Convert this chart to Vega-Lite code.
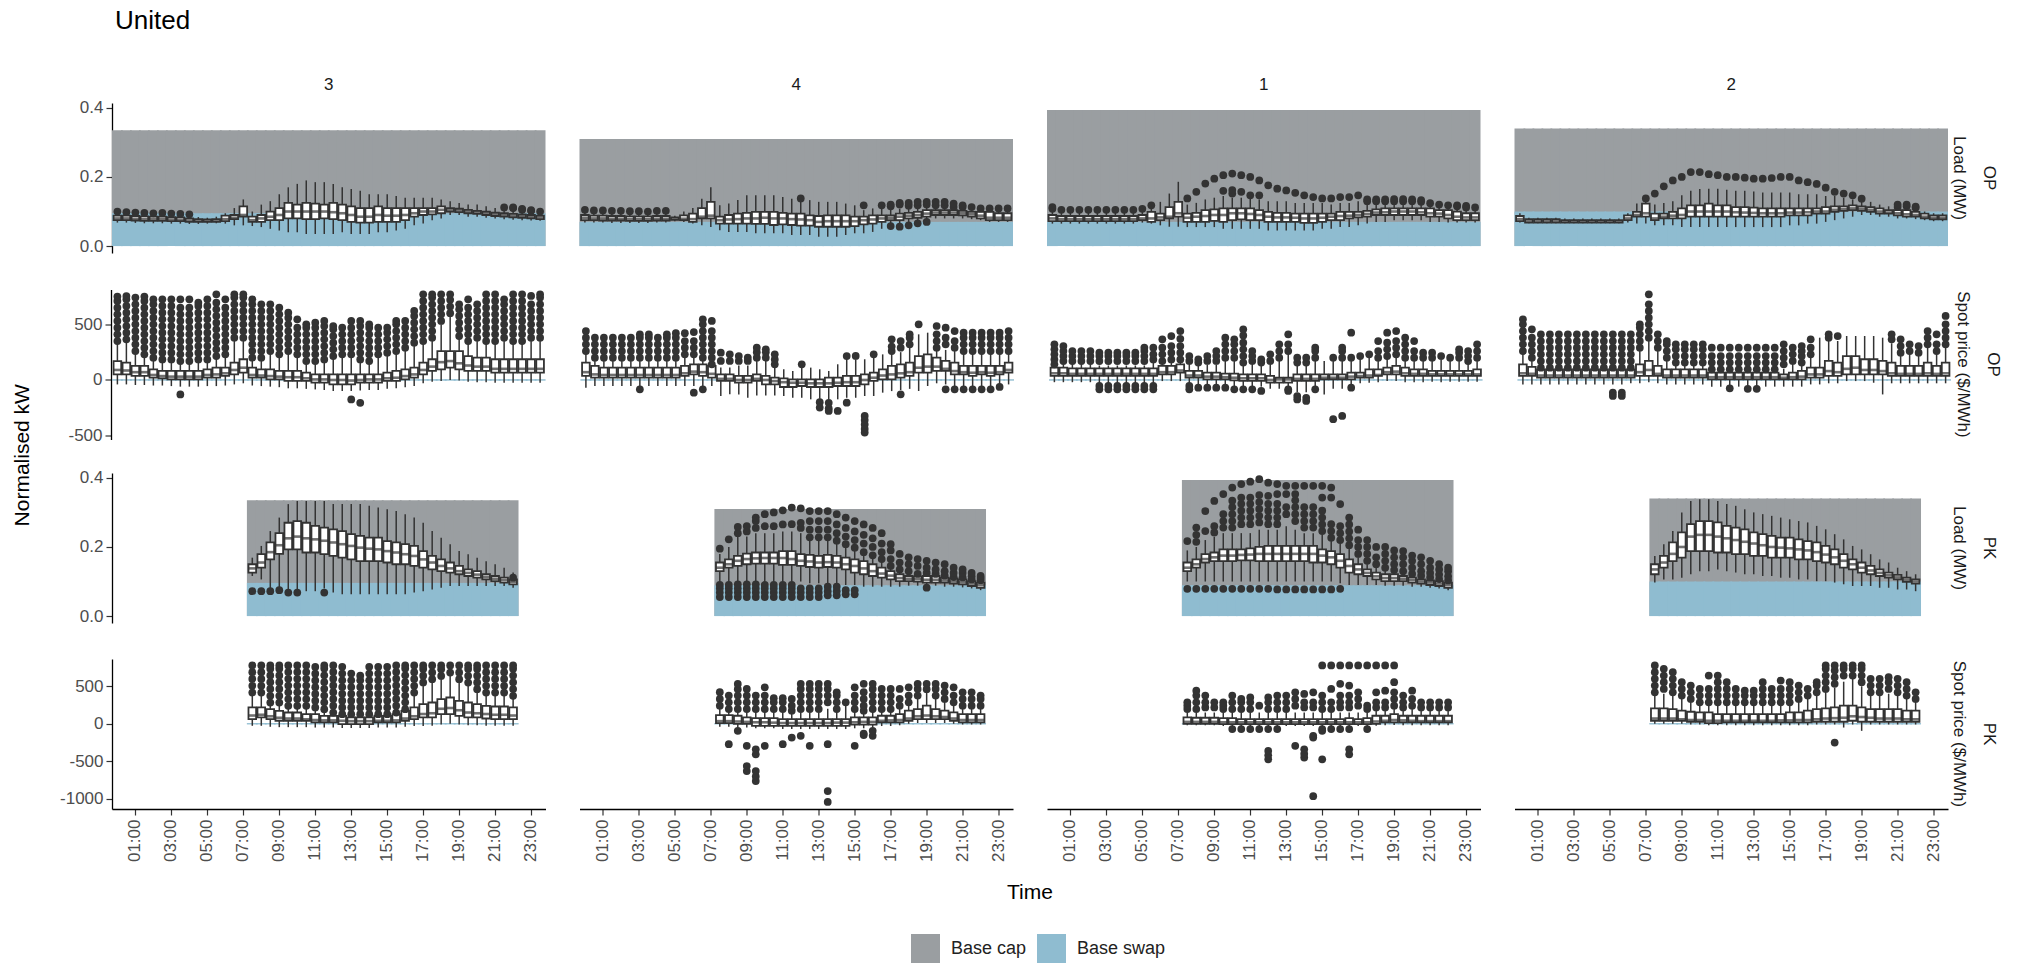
{
  "$schema": "https://vega.github.io/schema/vega-lite/v6.json",
  "background": "white",
  "padding": {"left": 11, "top": 8, "right": 6, "bottom": 2},
  "title": {"text": "United", "anchor": "start", "frame": "group", "dx": 83, "fontSize": 26, "fontWeight": "normal", "color": "#000000", "offset": 42},
  "config": {
    "font": "Liberation Sans",
    "view": {"stroke": null},
    "axis": {"grid": false, "domainColor": "#000000", "domainWidth": 1.3, "tickColor": "#333333", "tickWidth": 1.2, "tickSize": 6, "labelColor": "#4d4d4d", "labelFontSize": 17, "labelPadding": 3, "titleFontSize": 21, "titleFontWeight": "normal", "titleColor": "#000000"},
    "header": {"labelFontSize": 17, "labelColor": "#1a1a1a", "titleFontSize": 17, "titleFontWeight": "normal", "titleColor": "#1a1a1a"},
    "legend": {"orient": "none", "legendX": 879, "legendY": 831, "direction": "horizontal", "labelFontSize": 18, "labelColor": "#222222", "symbolType": "square", "symbolSize": 841, "symbolStrokeWidth": 0, "symbolOpacity": 1, "columnPadding": 10, "labelOffset": 11}
  },
  "spacing": 23,
  "datasets": {
    "bx": [
      {"c":"3","r":"OPL","t":"00:00","lo":0.068,"q1":0.075,"m":0.08,"q3":0.088,"hi":0.095,"o":[0.1]},
      {"c":"3","r":"OPL","t":"00:30","lo":0.068,"q1":0.075,"m":0.08,"q3":0.088,"hi":0.095,"o":[0.098]},
      {"c":"3","r":"OPL","t":"01:00","lo":0.067,"q1":0.074,"m":0.079,"q3":0.087,"hi":0.094,"o":[0.097]},
      {"c":"3","r":"OPL","t":"01:30","lo":0.066,"q1":0.073,"m":0.078,"q3":0.086,"hi":0.093,"o":[0.096]},
      {"c":"3","r":"OPL","t":"02:00","lo":0.066,"q1":0.073,"m":0.078,"q3":0.085,"hi":0.092,"o":[0.095]},
      {"c":"3","r":"OPL","t":"02:30","lo":0.066,"q1":0.073,"m":0.078,"q3":0.085,"hi":0.092,"o":[0.096]},
      {"c":"3","r":"OPL","t":"03:00","lo":0.065,"q1":0.072,"m":0.077,"q3":0.084,"hi":0.09,"o":[0.094]},
      {"c":"3","r":"OPL","t":"03:30","lo":0.065,"q1":0.072,"m":0.076,"q3":0.083,"hi":0.09,"o":[0.093]},
      {"c":"3","r":"OPL","t":"04:00","lo":0.064,"q1":0.07,"m":0.074,"q3":0.08,"hi":0.088,"o":[0.092]},
      {"c":"3","r":"OPL","t":"04:30","lo":0.064,"q1":0.07,"m":0.073,"q3":0.078,"hi":0.084},
      {"c":"3","r":"OPL","t":"05:00","lo":0.065,"q1":0.07,"m":0.073,"q3":0.077,"hi":0.082},
      {"c":"3","r":"OPL","t":"05:30","lo":0.066,"q1":0.07,"m":0.074,"q3":0.078,"hi":0.085},
      {"c":"3","r":"OPL","t":"06:00","lo":0.065,"q1":0.072,"m":0.078,"q3":0.088,"hi":0.095},
      {"c":"3","r":"OPL","t":"06:30","lo":0.06,"q1":0.078,"m":0.082,"q3":0.09,"hi":0.11},
      {"c":"3","r":"OPL","t":"07:00","lo":0.06,"q1":0.085,"m":0.09,"q3":0.115,"hi":0.135},
      {"c":"3","r":"OPL","t":"07:30","lo":0.058,"q1":0.07,"m":0.075,"q3":0.085,"hi":0.1},
      {"c":"3","r":"OPL","t":"08:00","lo":0.055,"q1":0.07,"m":0.08,"q3":0.09,"hi":0.12},
      {"c":"3","r":"OPL","t":"08:30","lo":0.05,"q1":0.075,"m":0.085,"q3":0.1,"hi":0.13},
      {"c":"3","r":"OPL","t":"09:00","lo":0.045,"q1":0.075,"m":0.09,"q3":0.11,"hi":0.15},
      {"c":"3","r":"OPL","t":"09:30","lo":0.04,"q1":0.08,"m":0.1,"q3":0.125,"hi":0.17},
      {"c":"3","r":"OPL","t":"10:00","lo":0.04,"q1":0.08,"m":0.1,"q3":0.12,"hi":0.18},
      {"c":"3","r":"OPL","t":"10:30","lo":0.035,"q1":0.078,"m":0.1,"q3":0.125,"hi":0.19},
      {"c":"3","r":"OPL","t":"11:00","lo":0.035,"q1":0.078,"m":0.1,"q3":0.123,"hi":0.185},
      {"c":"3","r":"OPL","t":"11:30","lo":0.035,"q1":0.08,"m":0.1,"q3":0.12,"hi":0.185},
      {"c":"3","r":"OPL","t":"12:00","lo":0.035,"q1":0.078,"m":0.098,"q3":0.125,"hi":0.18},
      {"c":"3","r":"OPL","t":"12:30","lo":0.04,"q1":0.075,"m":0.095,"q3":0.12,"hi":0.17},
      {"c":"3","r":"OPL","t":"13:00","lo":0.035,"q1":0.07,"m":0.09,"q3":0.115,"hi":0.165},
      {"c":"3","r":"OPL","t":"13:30","lo":0.035,"q1":0.068,"m":0.085,"q3":0.11,"hi":0.16},
      {"c":"3","r":"OPL","t":"14:00","lo":0.035,"q1":0.068,"m":0.085,"q3":0.11,"hi":0.15},
      {"c":"3","r":"OPL","t":"14:30","lo":0.04,"q1":0.07,"m":0.09,"q3":0.115,"hi":0.15},
      {"c":"3","r":"OPL","t":"15:00","lo":0.04,"q1":0.07,"m":0.088,"q3":0.11,"hi":0.15},
      {"c":"3","r":"OPL","t":"15:30","lo":0.045,"q1":0.07,"m":0.088,"q3":0.11,"hi":0.145},
      {"c":"3","r":"OPL","t":"16:00","lo":0.05,"q1":0.075,"m":0.09,"q3":0.11,"hi":0.14},
      {"c":"3","r":"OPL","t":"16:30","lo":0.06,"q1":0.085,"m":0.095,"q3":0.11,"hi":0.14},
      {"c":"3","r":"OPL","t":"17:00","lo":0.065,"q1":0.09,"m":0.1,"q3":0.11,"hi":0.14},
      {"c":"3","r":"OPL","t":"17:30","lo":0.075,"q1":0.092,"m":0.1,"q3":0.11,"hi":0.14},
      {"c":"3","r":"OPL","t":"18:00","lo":0.08,"q1":0.095,"m":0.105,"q3":0.115,"hi":0.135},
      {"c":"3","r":"OPL","t":"18:30","lo":0.09,"q1":0.1,"m":0.105,"q3":0.11,"hi":0.13},
      {"c":"3","r":"OPL","t":"19:00","lo":0.09,"q1":0.098,"m":0.103,"q3":0.108,"hi":0.125},
      {"c":"3","r":"OPL","t":"19:30","lo":0.085,"q1":0.095,"m":0.1,"q3":0.105,"hi":0.12},
      {"c":"3","r":"OPL","t":"20:00","lo":0.085,"q1":0.093,"m":0.098,"q3":0.102,"hi":0.12},
      {"c":"3","r":"OPL","t":"20:30","lo":0.082,"q1":0.09,"m":0.095,"q3":0.1,"hi":0.115},
      {"c":"3","r":"OPL","t":"21:00","lo":0.08,"q1":0.087,"m":0.092,"q3":0.097,"hi":0.11},
      {"c":"3","r":"OPL","t":"21:30","lo":0.078,"q1":0.085,"m":0.09,"q3":0.095,"hi":0.108,"o":[0.112]},
      {"c":"3","r":"OPL","t":"22:00","lo":0.076,"q1":0.083,"m":0.088,"q3":0.093,"hi":0.105,"o":[0.11,0.112]},
      {"c":"3","r":"OPL","t":"22:30","lo":0.075,"q1":0.082,"m":0.087,"q3":0.092,"hi":0.1,"o":[0.105,0.108]},
      {"c":"3","r":"OPL","t":"23:00","lo":0.074,"q1":0.08,"m":0.085,"q3":0.09,"hi":0.098,"o":[0.102,0.104]},
      {"c":"3","r":"OPL","t":"23:30","lo":0.073,"q1":0.078,"m":0.083,"q3":0.088,"hi":0.096,"o":[0.1]},

      {"c":"4","r":"OPL","t":"00:00","lo":0.068,"q1":0.075,"m":0.082,"q3":0.09,"hi":0.1,"o":[0.105]},
      {"c":"4","r":"OPL","t":"00:30","lo":0.068,"q1":0.075,"m":0.08,"q3":0.088,"hi":0.098,"o":[0.103]},
      {"c":"4","r":"OPL","t":"01:00","lo":0.068,"q1":0.074,"m":0.08,"q3":0.088,"hi":0.098,"o":[0.103]},
      {"c":"4","r":"OPL","t":"01:30","lo":0.067,"q1":0.074,"m":0.079,"q3":0.087,"hi":0.097,"o":[0.102]},
      {"c":"4","r":"OPL","t":"02:00","lo":0.067,"q1":0.074,"m":0.079,"q3":0.087,"hi":0.097,"o":[0.102]},
      {"c":"4","r":"OPL","t":"02:30","lo":0.067,"q1":0.073,"m":0.078,"q3":0.086,"hi":0.096,"o":[0.101]},
      {"c":"4","r":"OPL","t":"03:00","lo":0.067,"q1":0.073,"m":0.078,"q3":0.086,"hi":0.096,"o":[0.101]},
      {"c":"4","r":"OPL","t":"03:30","lo":0.067,"q1":0.073,"m":0.078,"q3":0.086,"hi":0.096,"o":[0.1]},
      {"c":"4","r":"OPL","t":"04:00","lo":0.068,"q1":0.074,"m":0.079,"q3":0.087,"hi":0.097,"o":[0.102]},
      {"c":"4","r":"OPL","t":"04:30","lo":0.068,"q1":0.074,"m":0.079,"q3":0.087,"hi":0.097,"o":[0.102]},
      {"c":"4","r":"OPL","t":"05:00","lo":0.072,"q1":0.076,"m":0.079,"q3":0.083,"hi":0.088},
      {"c":"4","r":"OPL","t":"05:30","lo":0.07,"q1":0.075,"m":0.079,"q3":0.089,"hi":0.1},
      {"c":"4","r":"OPL","t":"06:00","lo":0.065,"q1":0.07,"m":0.078,"q3":0.094,"hi":0.11},
      {"c":"4","r":"OPL","t":"06:30","lo":0.06,"q1":0.08,"m":0.085,"q3":0.11,"hi":0.137},
      {"c":"4","r":"OPL","t":"07:00","lo":0.055,"q1":0.08,"m":0.088,"q3":0.128,"hi":0.17},
      {"c":"4","r":"OPL","t":"07:30","lo":0.046,"q1":0.065,"m":0.075,"q3":0.085,"hi":0.118},
      {"c":"4","r":"OPL","t":"08:00","lo":0.041,"q1":0.065,"m":0.077,"q3":0.09,"hi":0.123},
      {"c":"4","r":"OPL","t":"08:30","lo":0.041,"q1":0.065,"m":0.078,"q3":0.094,"hi":0.133},
      {"c":"4","r":"OPL","t":"09:00","lo":0.041,"q1":0.065,"m":0.08,"q3":0.096,"hi":0.147},
      {"c":"4","r":"OPL","t":"09:30","lo":0.037,"q1":0.064,"m":0.08,"q3":0.099,"hi":0.147},
      {"c":"4","r":"OPL","t":"10:00","lo":0.037,"q1":0.064,"m":0.082,"q3":0.099,"hi":0.147},
      {"c":"4","r":"OPL","t":"10:30","lo":0.037,"q1":0.061,"m":0.08,"q3":0.099,"hi":0.147},
      {"c":"4","r":"OPL","t":"11:00","lo":0.037,"q1":0.063,"m":0.08,"q3":0.096,"hi":0.142},
      {"c":"4","r":"OPL","t":"11:30","lo":0.032,"q1":0.061,"m":0.078,"q3":0.094,"hi":0.137},
      {"c":"4","r":"OPL","t":"12:00","lo":0.032,"q1":0.059,"m":0.077,"q3":0.094,"hi":0.128,"o":[0.138]},
      {"c":"4","r":"OPL","t":"12:30","lo":0.032,"q1":0.059,"m":0.075,"q3":0.089,"hi":0.133},
      {"c":"4","r":"OPL","t":"13:00","lo":0.027,"q1":0.056,"m":0.07,"q3":0.087,"hi":0.128},
      {"c":"4","r":"OPL","t":"13:30","lo":0.027,"q1":0.056,"m":0.072,"q3":0.089,"hi":0.128},
      {"c":"4","r":"OPL","t":"14:00","lo":0.027,"q1":0.056,"m":0.072,"q3":0.089,"hi":0.128},
      {"c":"4","r":"OPL","t":"14:30","lo":0.032,"q1":0.056,"m":0.072,"q3":0.089,"hi":0.123},
      {"c":"4","r":"OPL","t":"15:00","lo":0.037,"q1":0.058,"m":0.072,"q3":0.085,"hi":0.118},
      {"c":"4","r":"OPL","t":"15:30","lo":0.037,"q1":0.063,"m":0.075,"q3":0.085,"hi":0.104,"o":[0.118]},
      {"c":"4","r":"OPL","t":"16:00","lo":0.041,"q1":0.065,"m":0.077,"q3":0.089,"hi":0.109},
      {"c":"4","r":"OPL","t":"16:30","lo":0.05,"q1":0.07,"m":0.08,"q3":0.089,"hi":0.109,"o":[0.118]},
      {"c":"4","r":"OPL","t":"17:00","lo":0.065,"q1":0.075,"m":0.082,"q3":0.089,"hi":0.105,"o":[0.058,0.115,0.12]},
      {"c":"4","r":"OPL","t":"17:30","lo":0.065,"q1":0.075,"m":0.085,"q3":0.094,"hi":0.108,"o":[0.056,0.12,0.125]},
      {"c":"4","r":"OPL","t":"18:00","lo":0.068,"q1":0.08,"m":0.088,"q3":0.096,"hi":0.11,"o":[0.06,0.117,0.125]},
      {"c":"4","r":"OPL","t":"18:30","lo":0.072,"q1":0.082,"m":0.09,"q3":0.099,"hi":0.112,"o":[0.066,0.118,0.128]},
      {"c":"4","r":"OPL","t":"19:00","lo":0.075,"q1":0.085,"m":0.094,"q3":0.104,"hi":0.112,"o":[0.07,0.12,0.128]},
      {"c":"4","r":"OPL","t":"19:30","lo":0.08,"q1":0.09,"m":0.097,"q3":0.104,"hi":0.112,"o":[0.118,0.128]},
      {"c":"4","r":"OPL","t":"20:00","lo":0.08,"q1":0.09,"m":0.097,"q3":0.104,"hi":0.112,"o":[0.118,0.128]},
      {"c":"4","r":"OPL","t":"20:30","lo":0.08,"q1":0.09,"m":0.097,"q3":0.104,"hi":0.11,"o":[0.113,0.123]},
      {"c":"4","r":"OPL","t":"21:00","lo":0.08,"q1":0.089,"m":0.095,"q3":0.102,"hi":0.108,"o":[0.113,0.118]},
      {"c":"4","r":"OPL","t":"21:30","lo":0.078,"q1":0.085,"m":0.092,"q3":0.099,"hi":0.105,"o":[0.113]},
      {"c":"4","r":"OPL","t":"22:00","lo":0.075,"q1":0.08,"m":0.088,"q3":0.099,"hi":0.105,"o":[0.109]},
      {"c":"4","r":"OPL","t":"22:30","lo":0.07,"q1":0.075,"m":0.082,"q3":0.099,"hi":0.105,"o":[0.109]},
      {"c":"4","r":"OPL","t":"23:00","lo":0.07,"q1":0.075,"m":0.082,"q3":0.095,"hi":0.105,"o":[0.109]},
      {"c":"4","r":"OPL","t":"23:30","lo":0.07,"q1":0.075,"m":0.082,"q3":0.095,"hi":0.105,"o":[0.109]},

      {"c":"1","r":"OPL","t":"00:00","lo":0.065,"q1":0.072,"m":0.08,"q3":0.09,"hi":0.1,"o":[0.108,0.113]},
      {"c":"1","r":"OPL","t":"00:30","lo":0.065,"q1":0.072,"m":0.078,"q3":0.087,"hi":0.098,"o":[0.105]},
      {"c":"1","r":"OPL","t":"01:00","lo":0.065,"q1":0.072,"m":0.078,"q3":0.087,"hi":0.098,"o":[0.105]},
      {"c":"1","r":"OPL","t":"01:30","lo":0.065,"q1":0.072,"m":0.078,"q3":0.087,"hi":0.098,"o":[0.105]},
      {"c":"1","r":"OPL","t":"02:00","lo":0.065,"q1":0.072,"m":0.078,"q3":0.087,"hi":0.098,"o":[0.105]},
      {"c":"1","r":"OPL","t":"02:30","lo":0.065,"q1":0.072,"m":0.078,"q3":0.087,"hi":0.098,"o":[0.105]},
      {"c":"1","r":"OPL","t":"03:00","lo":0.065,"q1":0.072,"m":0.078,"q3":0.087,"hi":0.098,"o":[0.105]},
      {"c":"1","r":"OPL","t":"03:30","lo":0.065,"q1":0.072,"m":0.078,"q3":0.087,"hi":0.098,"o":[0.105]},
      {"c":"1","r":"OPL","t":"04:00","lo":0.065,"q1":0.072,"m":0.078,"q3":0.087,"hi":0.098,"o":[0.105]},
      {"c":"1","r":"OPL","t":"04:30","lo":0.065,"q1":0.072,"m":0.078,"q3":0.087,"hi":0.098,"o":[0.105]},
      {"c":"1","r":"OPL","t":"05:00","lo":0.068,"q1":0.075,"m":0.08,"q3":0.09,"hi":0.1,"o":[0.108]},
      {"c":"1","r":"OPL","t":"05:30","lo":0.065,"q1":0.07,"m":0.08,"q3":0.099,"hi":0.11,"o":[0.118]},
      {"c":"1","r":"OPL","t":"06:00","lo":0.06,"q1":0.075,"m":0.083,"q3":0.094,"hi":0.128},
      {"c":"1","r":"OPL","t":"06:30","lo":0.056,"q1":0.08,"m":0.085,"q3":0.113,"hi":0.152},
      {"c":"1","r":"OPL","t":"07:00","lo":0.056,"q1":0.085,"m":0.095,"q3":0.128,"hi":0.186},
      {"c":"1","r":"OPL","t":"07:30","lo":0.055,"q1":0.07,"m":0.082,"q3":0.094,"hi":0.12,"o":[0.138]},
      {"c":"1","r":"OPL","t":"08:00","lo":0.055,"q1":0.07,"m":0.085,"q3":0.096,"hi":0.125,"o":[0.157]},
      {"c":"1","r":"OPL","t":"08:30","lo":0.055,"q1":0.07,"m":0.087,"q3":0.104,"hi":0.135,"o":[0.181]},
      {"c":"1","r":"OPL","t":"09:00","lo":0.055,"q1":0.073,"m":0.09,"q3":0.106,"hi":0.14,"o":[0.195]},
      {"c":"1","r":"OPL","t":"09:30","lo":0.05,"q1":0.07,"m":0.09,"q3":0.109,"hi":0.145,"o":[0.16,0.205]},
      {"c":"1","r":"OPL","t":"10:00","lo":0.05,"q1":0.075,"m":0.095,"q3":0.109,"hi":0.14,"o":[0.152,0.162,0.21]},
      {"c":"1","r":"OPL","t":"10:30","lo":0.05,"q1":0.077,"m":0.095,"q3":0.109,"hi":0.14,"o":[0.157,0.205]},
      {"c":"1","r":"OPL","t":"11:00","lo":0.05,"q1":0.075,"m":0.093,"q3":0.109,"hi":0.14,"o":[0.147,0.2]},
      {"c":"1","r":"OPL","t":"11:30","lo":0.05,"q1":0.075,"m":0.09,"q3":0.104,"hi":0.135,"o":[0.147,0.19]},
      {"c":"1","r":"OPL","t":"12:00","lo":0.045,"q1":0.07,"m":0.085,"q3":0.099,"hi":0.13,"o":[0.176]},
      {"c":"1","r":"OPL","t":"12:30","lo":0.045,"q1":0.07,"m":0.083,"q3":0.096,"hi":0.13,"o":[0.166]},
      {"c":"1","r":"OPL","t":"13:00","lo":0.045,"q1":0.07,"m":0.083,"q3":0.096,"hi":0.13,"o":[0.161]},
      {"c":"1","r":"OPL","t":"13:30","lo":0.045,"q1":0.07,"m":0.082,"q3":0.094,"hi":0.125,"o":[0.154]},
      {"c":"1","r":"OPL","t":"14:00","lo":0.045,"q1":0.067,"m":0.08,"q3":0.094,"hi":0.125,"o":[0.147]},
      {"c":"1","r":"OPL","t":"14:30","lo":0.045,"q1":0.067,"m":0.08,"q3":0.094,"hi":0.125,"o":[0.142]},
      {"c":"1","r":"OPL","t":"15:00","lo":0.05,"q1":0.07,"m":0.082,"q3":0.094,"hi":0.125,"o":[0.138]},
      {"c":"1","r":"OPL","t":"15:30","lo":0.05,"q1":0.075,"m":0.085,"q3":0.094,"hi":0.12,"o":[0.138]},
      {"c":"1","r":"OPL","t":"16:00","lo":0.055,"q1":0.075,"m":0.087,"q3":0.099,"hi":0.125,"o":[0.142]},
      {"c":"1","r":"OPL","t":"16:30","lo":0.055,"q1":0.08,"m":0.088,"q3":0.099,"hi":0.125,"o":[0.142]},
      {"c":"1","r":"OPL","t":"17:00","lo":0.06,"q1":0.083,"m":0.09,"q3":0.099,"hi":0.13,"o":[0.147]},
      {"c":"1","r":"OPL","t":"17:30","lo":0.065,"q1":0.085,"m":0.093,"q3":0.102,"hi":0.12,"o":[0.13,0.135]},
      {"c":"1","r":"OPL","t":"18:00","lo":0.07,"q1":0.09,"m":0.097,"q3":0.106,"hi":0.12,"o":[0.13,0.135]},
      {"c":"1","r":"OPL","t":"18:30","lo":0.07,"q1":0.09,"m":0.098,"q3":0.109,"hi":0.12,"o":[0.13,0.135]},
      {"c":"1","r":"OPL","t":"19:00","lo":0.075,"q1":0.09,"m":0.1,"q3":0.109,"hi":0.12,"o":[0.13,0.136]},
      {"c":"1","r":"OPL","t":"19:30","lo":0.075,"q1":0.09,"m":0.1,"q3":0.109,"hi":0.12,"o":[0.13,0.136]},
      {"c":"1","r":"OPL","t":"20:00","lo":0.075,"q1":0.09,"m":0.1,"q3":0.109,"hi":0.12,"o":[0.13,0.135]},
      {"c":"1","r":"OPL","t":"20:30","lo":0.075,"q1":0.09,"m":0.098,"q3":0.109,"hi":0.12,"o":[0.128,0.133]},
      {"c":"1","r":"OPL","t":"21:00","lo":0.07,"q1":0.085,"m":0.095,"q3":0.109,"hi":0.118,"o":[0.124]},
      {"c":"1","r":"OPL","t":"21:30","lo":0.07,"q1":0.085,"m":0.094,"q3":0.104,"hi":0.115,"o":[0.12]},
      {"c":"1","r":"OPL","t":"22:00","lo":0.068,"q1":0.08,"m":0.09,"q3":0.104,"hi":0.112,"o":[0.118]},
      {"c":"1","r":"OPL","t":"22:30","lo":0.068,"q1":0.075,"m":0.085,"q3":0.1,"hi":0.11,"o":[0.115,0.118]},
      {"c":"1","r":"OPL","t":"23:00","lo":0.068,"q1":0.075,"m":0.083,"q3":0.095,"hi":0.105,"o":[0.112,0.116]},
      {"c":"1","r":"OPL","t":"23:30","lo":0.068,"q1":0.075,"m":0.083,"q3":0.095,"hi":0.105,"o":[0.112]},

      {"c":"2","r":"OPL","t":"00:00","lo":0.068,"q1":0.072,"m":0.078,"q3":0.087,"hi":0.095},
      {"c":"2","r":"OPL","t":"00:30","lo":0.066,"q1":0.068,"m":0.072,"q3":0.078,"hi":0.082},
      {"c":"2","r":"OPL","t":"01:00","lo":0.066,"q1":0.068,"m":0.072,"q3":0.078,"hi":0.082},
      {"c":"2","r":"OPL","t":"01:30","lo":0.066,"q1":0.068,"m":0.072,"q3":0.078,"hi":0.082},
      {"c":"2","r":"OPL","t":"02:00","lo":0.066,"q1":0.068,"m":0.072,"q3":0.078,"hi":0.082},
      {"c":"2","r":"OPL","t":"02:30","lo":0.066,"q1":0.068,"m":0.071,"q3":0.075,"hi":0.08},
      {"c":"2","r":"OPL","t":"03:00","lo":0.066,"q1":0.068,"m":0.071,"q3":0.075,"hi":0.08},
      {"c":"2","r":"OPL","t":"03:30","lo":0.066,"q1":0.068,"m":0.071,"q3":0.075,"hi":0.08},
      {"c":"2","r":"OPL","t":"04:00","lo":0.066,"q1":0.068,"m":0.071,"q3":0.075,"hi":0.08},
      {"c":"2","r":"OPL","t":"04:30","lo":0.066,"q1":0.068,"m":0.071,"q3":0.075,"hi":0.08},
      {"c":"2","r":"OPL","t":"05:00","lo":0.066,"q1":0.068,"m":0.071,"q3":0.075,"hi":0.08},
      {"c":"2","r":"OPL","t":"05:30","lo":0.066,"q1":0.068,"m":0.071,"q3":0.075,"hi":0.08},
      {"c":"2","r":"OPL","t":"06:00","lo":0.068,"q1":0.075,"m":0.08,"q3":0.089,"hi":0.095},
      {"c":"2","r":"OPL","t":"06:30","lo":0.065,"q1":0.085,"m":0.09,"q3":0.099,"hi":0.123},
      {"c":"2","r":"OPL","t":"07:00","lo":0.065,"q1":0.085,"m":0.095,"q3":0.123,"hi":0.13,"o":[0.138]},
      {"c":"2","r":"OPL","t":"07:30","lo":0.06,"q1":0.075,"m":0.08,"q3":0.094,"hi":0.12,"o":[0.152]},
      {"c":"2","r":"OPL","t":"08:00","lo":0.06,"q1":0.08,"m":0.085,"q3":0.094,"hi":0.125,"o":[0.173]},
      {"c":"2","r":"OPL","t":"08:30","lo":0.06,"q1":0.08,"m":0.088,"q3":0.099,"hi":0.13,"o":[0.19]},
      {"c":"2","r":"OPL","t":"09:00","lo":0.055,"q1":0.08,"m":0.09,"q3":0.109,"hi":0.147,"o":[0.2]},
      {"c":"2","r":"OPL","t":"09:30","lo":0.055,"q1":0.085,"m":0.1,"q3":0.118,"hi":0.16,"o":[0.214]},
      {"c":"2","r":"OPL","t":"10:00","lo":0.055,"q1":0.085,"m":0.1,"q3":0.118,"hi":0.165,"o":[0.214]},
      {"c":"2","r":"OPL","t":"10:30","lo":0.055,"q1":0.085,"m":0.1,"q3":0.123,"hi":0.166,"o":[0.208]},
      {"c":"2","r":"OPL","t":"11:00","lo":0.055,"q1":0.085,"m":0.1,"q3":0.118,"hi":0.166,"o":[0.205]},
      {"c":"2","r":"OPL","t":"11:30","lo":0.055,"q1":0.085,"m":0.1,"q3":0.118,"hi":0.163,"o":[0.2]},
      {"c":"2","r":"OPL","t":"12:00","lo":0.055,"q1":0.085,"m":0.098,"q3":0.113,"hi":0.16,"o":[0.2]},
      {"c":"2","r":"OPL","t":"12:30","lo":0.055,"q1":0.085,"m":0.097,"q3":0.113,"hi":0.16,"o":[0.198]},
      {"c":"2","r":"OPL","t":"13:00","lo":0.055,"q1":0.085,"m":0.096,"q3":0.111,"hi":0.158,"o":[0.195]},
      {"c":"2","r":"OPL","t":"13:30","lo":0.055,"q1":0.085,"m":0.095,"q3":0.109,"hi":0.155,"o":[0.195]},
      {"c":"2","r":"OPL","t":"14:00","lo":0.055,"q1":0.085,"m":0.095,"q3":0.109,"hi":0.155,"o":[0.197]},
      {"c":"2","r":"OPL","t":"14:30","lo":0.055,"q1":0.085,"m":0.095,"q3":0.109,"hi":0.155,"o":[0.2]},
      {"c":"2","r":"OPL","t":"15:00","lo":0.06,"q1":0.089,"m":0.097,"q3":0.109,"hi":0.155,"o":[0.2]},
      {"c":"2","r":"OPL","t":"15:30","lo":0.06,"q1":0.089,"m":0.097,"q3":0.109,"hi":0.15,"o":[0.19]},
      {"c":"2","r":"OPL","t":"16:00","lo":0.065,"q1":0.089,"m":0.098,"q3":0.109,"hi":0.15,"o":[0.185]},
      {"c":"2","r":"OPL","t":"16:30","lo":0.065,"q1":0.094,"m":0.1,"q3":0.109,"hi":0.15,"o":[0.18]},
      {"c":"2","r":"OPL","t":"17:00","lo":0.07,"q1":0.094,"m":0.1,"q3":0.113,"hi":0.145,"o":[0.169]},
      {"c":"2","r":"OPL","t":"17:30","lo":0.075,"q1":0.099,"m":0.105,"q3":0.115,"hi":0.145,"o":[0.157]},
      {"c":"2","r":"OPL","t":"18:00","lo":0.08,"q1":0.102,"m":0.107,"q3":0.115,"hi":0.14,"o":[0.152]},
      {"c":"2","r":"OPL","t":"18:30","lo":0.085,"q1":0.104,"m":0.109,"q3":0.118,"hi":0.135,"o":[0.147]},
      {"c":"2","r":"OPL","t":"19:00","lo":0.09,"q1":0.102,"m":0.108,"q3":0.115,"hi":0.13,"o":[0.137]},
      {"c":"2","r":"OPL","t":"19:30","lo":0.09,"q1":0.099,"m":0.105,"q3":0.113,"hi":0.128},
      {"c":"2","r":"OPL","t":"20:00","lo":0.085,"q1":0.094,"m":0.1,"q3":0.109,"hi":0.12},
      {"c":"2","r":"OPL","t":"20:30","lo":0.085,"q1":0.094,"m":0.097,"q3":0.104,"hi":0.115},
      {"c":"2","r":"OPL","t":"21:00","lo":0.08,"q1":0.089,"m":0.095,"q3":0.104,"hi":0.11,"o":[0.113,0.12]},
      {"c":"2","r":"OPL","t":"21:30","lo":0.08,"q1":0.085,"m":0.092,"q3":0.104,"hi":0.11,"o":[0.115,0.12]},
      {"c":"2","r":"OPL","t":"22:00","lo":0.078,"q1":0.085,"m":0.09,"q3":0.099,"hi":0.108,"o":[0.111,0.114]},
      {"c":"2","r":"OPL","t":"22:30","lo":0.075,"q1":0.08,"m":0.085,"q3":0.094,"hi":0.1},
      {"c":"2","r":"OPL","t":"23:00","lo":0.072,"q1":0.077,"m":0.082,"q3":0.089,"hi":0.095},
      {"c":"2","r":"OPL","t":"23:30","lo":0.072,"q1":0.077,"m":0.082,"q3":0.089,"hi":0.095},

      {"c":"3","r":"OPS","t":"00:00","lo":-40,"q1":51,"m":90,"q3":170,"hi":330,"o":[350,410,470,530,590,650,710,750]},
      {"c":"3","r":"OPS","t":"00:30","lo":-40,"q1":51,"m":85,"q3":156,"hi":340,"o":[365,425,485,545,605,665,725,754]},
      {"c":"3","r":"OPS","t":"01:00","lo":-45,"q1":36,"m":70,"q3":126,"hi":240,"o":[260,320,380,440,500,560,620,680,740]},
      {"c":"3","r":"OPS","t":"01:30","lo":-45,"q1":36,"m":70,"q3":126,"hi":220,"o":[230,290,350,410,470,530,590,650,710,750]},
      {"c":"3","r":"OPS","t":"02:00","lo":-50,"q1":21,"m":45,"q3":96,"hi":190,"o":[200,260,320,380,440,500,560,620,680,725]},
      {"c":"3","r":"OPS","t":"02:30","lo":-50,"q1":15,"m":35,"q3":81,"hi":175,"o":[185,245,305,365,425,485,545,605,665,725]},
      {"c":"3","r":"OPS","t":"03:00","lo":-55,"q1":6,"m":30,"q3":81,"hi":170,"o":[185,245,305,365,425,485,545,605,665,725]},
      {"c":"3","r":"OPS","t":"03:30","lo":-60,"q1":6,"m":30,"q3":81,"hi":160,"o":[-130,170,230,290,350,410,470,530,590,650,725]},
      {"c":"3","r":"OPS","t":"04:00","lo":-60,"q1":6,"m":30,"q3":81,"hi":160,"o":[170,230,290,350,410,470,530,590,650,725]},
      {"c":"3","r":"OPS","t":"04:30","lo":-60,"q1":6,"m":30,"q3":81,"hi":170,"o":[185,245,305,365,425,485,545,605,665,695]},
      {"c":"3","r":"OPS","t":"05:00","lo":-55,"q1":21,"m":45,"q3":96,"hi":175,"o":[185,245,305,365,425,485,545,605,665,725]},
      {"c":"3","r":"OPS","t":"05:30","lo":-55,"q1":21,"m":50,"q3":111,"hi":200,"o":[215,275,335,395,455,515,575,635,695,770]},
      {"c":"3","r":"OPS","t":"06:00","lo":-50,"q1":36,"m":60,"q3":111,"hi":215,"o":[230,290,350,410,470,530,590,650,725]},
      {"c":"3","r":"OPS","t":"06:30","lo":-40,"q1":51,"m":90,"q3":156,"hi":360,"o":[380,440,500,560,620,680,740,770]},
      {"c":"3","r":"OPS","t":"07:00","lo":-30,"q1":66,"m":110,"q3":186,"hi":370,"o":[380,440,500,560,620,680,740,770]},
      {"c":"3","r":"OPS","t":"07:30","lo":-50,"q1":21,"m":45,"q3":111,"hi":190,"o":[200,260,320,380,440,500,560,620,680,725]},
      {"c":"3","r":"OPS","t":"08:00","lo":-55,"q1":21,"m":40,"q3":96,"hi":185,"o":[200,260,320,380,440,500,560,620,680]},
      {"c":"3","r":"OPS","t":"08:30","lo":-60,"q1":6,"m":35,"q3":96,"hi":240,"o":[260,320,380,440,500,560,620,680]},
      {"c":"3","r":"OPS","t":"09:00","lo":-65,"q1":6,"m":30,"q3":81,"hi":210,"o":[230,290,350,410,470,530,590,650]},
      {"c":"3","r":"OPS","t":"09:30","lo":-75,"q1":-9,"m":25,"q3":81,"hi":240,"o":[260,320,380,440,500,560,605]},
      {"c":"3","r":"OPS","t":"10:00","lo":-75,"q1":-9,"m":25,"q3":81,"hi":210,"o":[230,290,350,410,470,545]},
      {"c":"3","r":"OPS","t":"10:30","lo":-80,"q1":-9,"m":15,"q3":66,"hi":160,"o":[170,230,290,350,410,470,500]},
      {"c":"3","r":"OPS","t":"11:00","lo":-85,"q1":-24,"m":5,"q3":51,"hi":160,"o":[170,230,290,350,410,470,515]},
      {"c":"3","r":"OPS","t":"11:30","lo":-90,"q1":-24,"m":5,"q3":51,"hi":170,"o":[185,245,305,365,425,485,530]},
      {"c":"3","r":"OPS","t":"12:00","lo":-100,"q1":-39,"m":0,"q3":51,"hi":200,"o":[215,275,335,395,455,485]},
      {"c":"3","r":"OPS","t":"12:30","lo":-100,"q1":-39,"m":0,"q3":51,"hi":210,"o":[230,290,350,410,470]},
      {"c":"3","r":"OPS","t":"13:00","lo":-100,"q1":-39,"m":-5,"q3":51,"hi":210,"o":[-175,230,290,350,410,470,530]},
      {"c":"3","r":"OPS","t":"13:30","lo":-95,"q1":-24,"m":0,"q3":51,"hi":170,"o":[-205,185,245,305,365,425,485,530]},
      {"c":"3","r":"OPS","t":"14:00","lo":-90,"q1":-24,"m":5,"q3":51,"hi":160,"o":[170,230,290,350,410,470,500]},
      {"c":"3","r":"OPS","t":"14:30","lo":-90,"q1":-24,"m":5,"q3":51,"hi":210,"o":[230,290,350,410,470]},
      {"c":"3","r":"OPS","t":"15:00","lo":-80,"q1":-9,"m":15,"q3":66,"hi":230,"o":[245,305,365,425,470]},
      {"c":"3","r":"OPS","t":"15:30","lo":-75,"q1":-9,"m":20,"q3":81,"hi":240,"o":[260,320,380,440,500,530]},
      {"c":"3","r":"OPS","t":"16:00","lo":-65,"q1":6,"m":35,"q3":96,"hi":270,"o":[290,350,410,470,530]},
      {"c":"3","r":"OPS","t":"16:30","lo":-55,"q1":21,"m":50,"q3":111,"hi":320,"o":[335,395,455,515,575,620]},
      {"c":"3","r":"OPS","t":"17:00","lo":-30,"q1":51,"m":90,"q3":156,"hi":340,"o":[350,410,470,530,590,650,710,770]},
      {"c":"3","r":"OPS","t":"17:30","lo":-15,"q1":81,"m":120,"q3":186,"hi":370,"o":[380,440,500,560,620,680,740,770]},
      {"c":"3","r":"OPS","t":"18:00","lo":-10,"q1":96,"m":160,"q3":260,"hi":500,"o":[530,590,650,710,770]},
      {"c":"3","r":"OPS","t":"18:30","lo":0,"q1":111,"m":170,"q3":260,"hi":580,"o":[600,660,720,770]},
      {"c":"3","r":"OPS","t":"19:00","lo":-5,"q1":96,"m":150,"q3":260,"hi":380,"o":[395,455,515,575,635,680]},
      {"c":"3","r":"OPS","t":"19:30","lo":-15,"q1":81,"m":130,"q3":215,"hi":330,"o":[350,410,470,530,590,650,725]},
      {"c":"3","r":"OPS","t":"20:00","lo":-20,"q1":81,"m":120,"q3":200,"hi":360,"o":[380,440,500,560,620,680]},
      {"c":"3","r":"OPS","t":"20:30","lo":-20,"q1":81,"m":120,"q3":200,"hi":330,"o":[350,410,470,530,590,650,710,770]},
      {"c":"3","r":"OPS","t":"21:00","lo":-25,"q1":66,"m":100,"q3":186,"hi":330,"o":[350,410,470,530,590,650,710,770]},
      {"c":"3","r":"OPS","t":"21:30","lo":-25,"q1":66,"m":100,"q3":186,"hi":360,"o":[380,440,500,560,620,680,725]},
      {"c":"3","r":"OPS","t":"22:00","lo":-25,"q1":66,"m":100,"q3":186,"hi":330,"o":[350,410,470,530,590,650,710,770]},
      {"c":"3","r":"OPS","t":"22:30","lo":-25,"q1":66,"m":100,"q3":186,"hi":330,"o":[350,410,470,530,590,650,710,770]},
      {"c":"3","r":"OPS","t":"23:00","lo":-25,"q1":66,"m":100,"q3":186,"hi":360,"o":[380,440,500,560,620,680,755]},
      {"c":"3","r":"OPS","t":"23:30","lo":-25,"q1":66,"m":100,"q3":186,"hi":360,"o":[380,440,500,560,620,680,740,770]},

      {"c":"4","r":"OPS","t":"00:00","lo":-69,"q1":36,"m":70,"q3":155,"hi":240,"o":[260,320,380,440]},
      {"c":"4","r":"OPS","t":"00:30","lo":-54,"q1":21,"m":50,"q3":126,"hi":180,"o":[200,260,320,380]},
      {"c":"4","r":"OPS","t":"01:00","lo":-54,"q1":21,"m":45,"q3":111,"hi":180,"o":[200,260,320,380]},
      {"c":"4","r":"OPS","t":"01:30","lo":-54,"q1":21,"m":45,"q3":111,"hi":180,"o":[200,260,320,380]},
      {"c":"4","r":"OPS","t":"02:00","lo":-54,"q1":21,"m":45,"q3":111,"hi":180,"o":[200,260,320,380]},
      {"c":"4","r":"OPS","t":"02:30","lo":-54,"q1":21,"m":45,"q3":111,"hi":180,"o":[200,260,320,380]},
      {"c":"4","r":"OPS","t":"03:00","lo":-54,"q1":21,"m":45,"q3":111,"hi":180,"o":[-84,200,260,320,380,410]},
      {"c":"4","r":"OPS","t":"03:30","lo":-54,"q1":21,"m":45,"q3":111,"hi":180,"o":[200,260,320,380,410]},
      {"c":"4","r":"OPS","t":"04:00","lo":-54,"q1":21,"m":45,"q3":111,"hi":180,"o":[200,260,320,380]},
      {"c":"4","r":"OPS","t":"04:30","lo":-54,"q1":21,"m":45,"q3":111,"hi":180,"o":[200,260,320,380,410]},
      {"c":"4","r":"OPS","t":"05:00","lo":-54,"q1":21,"m":45,"q3":111,"hi":180,"o":[200,260,320,380,420]},
      {"c":"4","r":"OPS","t":"05:30","lo":-54,"q1":36,"m":60,"q3":126,"hi":210,"o":[230,290,350,420]},
      {"c":"4","r":"OPS","t":"06:00","lo":-54,"q1":51,"m":75,"q3":141,"hi":210,"o":[-114,230,290,350,430]},
      {"c":"4","r":"OPS","t":"06:30","lo":-54,"q1":36,"m":70,"q3":141,"hi":180,"o":[-84,200,260,320,380,440,500,545]},
      {"c":"4","r":"OPS","t":"07:00","lo":-54,"q1":21,"m":55,"q3":126,"hi":135,"o":[141,200,260,320,380,440,530]},
      {"c":"4","r":"OPS","t":"07:30","lo":-144,"q1":-9,"m":10,"q3":51,"hi":111,"o":[171,245]},
      {"c":"4","r":"OPS","t":"08:00","lo":-129,"q1":-9,"m":10,"q3":51,"hi":111,"o":[171,230]},
      {"c":"4","r":"OPS","t":"08:30","lo":-130,"q1":-24,"m":0,"q3":36,"hi":130,"o":[171,215]},
      {"c":"4","r":"OPS","t":"09:00","lo":-160,"q1":-24,"m":0,"q3":36,"hi":130,"o":[171,200]},
      {"c":"4","r":"OPS","t":"09:30","lo":-140,"q1":-9,"m":10,"q3":51,"hi":180,"o":[200,250,290]},
      {"c":"4","r":"OPS","t":"10:00","lo":-140,"q1":-39,"m":0,"q3":36,"hi":170,"o":[200,250,275]},
      {"c":"4","r":"OPS","t":"10:30","lo":-140,"q1":-39,"m":-10,"q3":21,"hi":130,"o":[141,185,230]},
      {"c":"4","r":"OPS","t":"11:00","lo":-144,"q1":-63,"m":-20,"q3":15,"hi":96},
      {"c":"4","r":"OPS","t":"11:30","lo":-159,"q1":-63,"m":-25,"q3":6,"hi":81},
      {"c":"4","r":"OPS","t":"12:00","lo":-160,"q1":-54,"m":-25,"q3":6,"hi":110,"o":[141]},
      {"c":"4","r":"OPS","t":"12:30","lo":-174,"q1":-63,"m":-30,"q3":6,"hi":111},
      {"c":"4","r":"OPS","t":"13:00","lo":-170,"q1":-63,"m":-30,"q3":6,"hi":96,"o":[-200,-248]},
      {"c":"4","r":"OPS","t":"13:30","lo":-174,"q1":-63,"m":-30,"q3":21,"hi":81,"o":[-205,-255,-278]},
      {"c":"4","r":"OPS","t":"14:00","lo":-174,"q1":-54,"m":-25,"q3":21,"hi":141,"o":[-278]},
      {"c":"4","r":"OPS","t":"14:30","lo":-160,"q1":-54,"m":-20,"q3":36,"hi":186,"o":[-204,215]},
      {"c":"4","r":"OPS","t":"15:00","lo":-160,"q1":-54,"m":-20,"q3":36,"hi":186,"o":[216]},
      {"c":"4","r":"OPS","t":"15:30","lo":-144,"q1":-39,"m":0,"q3":51,"hi":186,"o":[-323,-360,-400,-440,-473]},
      {"c":"4","r":"OPS","t":"16:00","lo":-144,"q1":-9,"m":20,"q3":66,"hi":200,"o":[230]},
      {"c":"4","r":"OPS","t":"16:30","lo":-114,"q1":6,"m":40,"q3":96,"hi":230},
      {"c":"4","r":"OPS","t":"17:00","lo":-100,"q1":6,"m":50,"q3":126,"hi":240,"o":[260,300,365]},
      {"c":"4","r":"OPS","t":"17:30","lo":-90,"q1":21,"m":60,"q3":141,"hi":250,"o":[-129,290,350]},
      {"c":"4","r":"OPS","t":"18:00","lo":-80,"q1":36,"m":70,"q3":155,"hi":300,"o":[320,380,410]},
      {"c":"4","r":"OPS","t":"18:30","lo":-99,"q1":66,"m":110,"q3":215,"hi":410,"o":[500]},
      {"c":"4","r":"OPS","t":"19:00","lo":-54,"q1":66,"m":120,"q3":230,"hi":425},
      {"c":"4","r":"OPS","t":"19:30","lo":-30,"q1":81,"m":120,"q3":200,"hi":270,"o":[290,350,410,485]},
      {"c":"4","r":"OPS","t":"20:00","lo":-40,"q1":81,"m":100,"q3":171,"hi":270,"o":[-84,320,380,470]},
      {"c":"4","r":"OPS","t":"20:30","lo":-60,"q1":51,"m":80,"q3":155,"hi":260,"o":[-84,290,350,440]},
      {"c":"4","r":"OPS","t":"21:00","lo":-55,"q1":51,"m":70,"q3":126,"hi":240,"o":[-84,260,320,380,425]},
      {"c":"4","r":"OPS","t":"21:30","lo":-55,"q1":36,"m":65,"q3":126,"hi":240,"o":[-84,260,320,380,425]},
      {"c":"4","r":"OPS","t":"22:00","lo":-55,"q1":51,"m":70,"q3":126,"hi":240,"o":[-84,260,320,380,425]},
      {"c":"4","r":"OPS","t":"22:30","lo":-55,"q1":36,"m":65,"q3":126,"hi":240,"o":[-84,260,320,380,425]},
      {"c":"4","r":"OPS","t":"23:00","lo":-55,"q1":51,"m":70,"q3":126,"hi":240,"o":[-63,260,320,380,425]},
      {"c":"4","r":"OPS","t":"23:30","lo":-40,"q1":66,"m":90,"q3":155,"hi":250,"o":[260,320,380,440]},

      {"c":"1","r":"OPS","t":"00:00","lo":-20,"q1":36,"m":60,"q3":111,"hi":130,"o":[141,185,230,275,320]},
      {"c":"1","r":"OPS","t":"00:30","lo":-20,"q1":36,"m":60,"q3":111,"hi":140,"o":[170,215,260,305]},
      {"c":"1","r":"OPS","t":"01:00","lo":-20,"q1":36,"m":55,"q3":105,"hi":140,"o":[170,215,260]},
      {"c":"1","r":"OPS","t":"01:30","lo":-20,"q1":36,"m":55,"q3":105,"hi":140,"o":[170,215,260]},
      {"c":"1","r":"OPS","t":"02:00","lo":-20,"q1":36,"m":55,"q3":105,"hi":140,"o":[170,215,260]},
      {"c":"1","r":"OPS","t":"02:30","lo":-40,"q1":36,"m":55,"q3":105,"hi":130,"o":[-54,-84,170,215,245]},
      {"c":"1","r":"OPS","t":"03:00","lo":-40,"q1":36,"m":55,"q3":105,"hi":130,"o":[-54,-84,170,215,245]},
      {"c":"1","r":"OPS","t":"03:30","lo":-40,"q1":36,"m":55,"q3":105,"hi":130,"o":[-54,-84,170,215,245]},
      {"c":"1","r":"OPS","t":"04:00","lo":-40,"q1":36,"m":55,"q3":105,"hi":130,"o":[-54,-84,170,215,245]},
      {"c":"1","r":"OPS","t":"04:30","lo":-40,"q1":36,"m":55,"q3":105,"hi":130,"o":[-54,-84,170,215,245]},
      {"c":"1","r":"OPS","t":"05:00","lo":-40,"q1":36,"m":55,"q3":105,"hi":130,"o":[-54,-84,170,215,260,290]},
      {"c":"1","r":"OPS","t":"05:30","lo":-40,"q1":36,"m":55,"q3":105,"hi":160,"o":[-54,-84,185,230,290]},
      {"c":"1","r":"OPS","t":"06:00","lo":-10,"q1":51,"m":70,"q3":126,"hi":160,"o":[170,230,290,365]},
      {"c":"1","r":"OPS","t":"06:30","lo":-10,"q1":51,"m":70,"q3":126,"hi":170,"o":[185,245,305,395]},
      {"c":"1","r":"OPS","t":"07:00","lo":-10,"q1":66,"m":85,"q3":141,"hi":170,"o":[185,245,305,370,440]},
      {"c":"1","r":"OPS","t":"07:30","lo":-40,"q1":21,"m":40,"q3":81,"hi":150,"o":[-54,-84,171,215]},
      {"c":"1","r":"OPS","t":"08:00","lo":-40,"q1":21,"m":40,"q3":81,"hi":140,"o":[-69,156,185]},
      {"c":"1","r":"OPS","t":"08:30","lo":-50,"q1":6,"m":30,"q3":66,"hi":140,"o":[-69,171,215]},
      {"c":"1","r":"OPS","t":"09:00","lo":-50,"q1":6,"m":30,"q3":66,"hi":140,"o":[-69,171,215,260]},
      {"c":"1","r":"OPS","t":"09:30","lo":-50,"q1":6,"m":25,"q3":57,"hi":180,"o":[-69,200,260,320,380]},
      {"c":"1","r":"OPS","t":"10:00","lo":-55,"q1":-3,"m":20,"q3":57,"hi":180,"o":[-84,200,260,320,365]},
      {"c":"1","r":"OPS","t":"10:30","lo":-60,"q1":-9,"m":15,"q3":51,"hi":140,"o":[-84,156,215,275,335,400,455]},
      {"c":"1","r":"OPS","t":"11:00","lo":-60,"q1":-9,"m":15,"q3":51,"hi":150,"o":[-84,171,215,260]},
      {"c":"1","r":"OPS","t":"11:30","lo":-60,"q1":-9,"m":15,"q3":51,"hi":140,"o":[-99,156,185]},
      {"c":"1","r":"OPS","t":"12:00","lo":-80,"q1":-24,"m":0,"q3":36,"hi":150,"o":[171,230]},
      {"c":"1","r":"OPS","t":"12:30","lo":-80,"q1":-24,"m":5,"q3":21,"hi":180,"o":[200,260,320]},
      {"c":"1","r":"OPS","t":"13:00","lo":-70,"q1":-24,"m":5,"q3":21,"hi":240,"o":[-84,-99,260,320,410]},
      {"c":"1","r":"OPS","t":"13:30","lo":-110,"q1":-9,"m":10,"q3":51,"hi":150,"o":[-145,-175,156,200]},
      {"c":"1","r":"OPS","t":"14:00","lo":-110,"q1":-9,"m":10,"q3":51,"hi":150,"o":[-160,-189,156,200]},
      {"c":"1","r":"OPS","t":"14:30","lo":-75,"q1":-9,"m":10,"q3":51,"hi":170,"o":[-84,200,260,290]},
      {"c":"1","r":"OPS","t":"15:00","lo":-130,"q1":6,"m":20,"q3":51,"hi":170},
      {"c":"1","r":"OPS","t":"15:30","lo":-80,"q1":6,"m":20,"q3":51,"hi":180,"o":[-353,200]},
      {"c":"1","r":"OPS","t":"16:00","lo":-80,"q1":6,"m":20,"q3":51,"hi":180,"o":[-323,200,260,290]},
      {"c":"1","r":"OPS","t":"16:30","lo":-60,"q1":6,"m":30,"q3":66,"hi":180,"o":[-69,200,425]},
      {"c":"1","r":"OPS","t":"17:00","lo":-30,"q1":21,"m":35,"q3":66,"hi":190,"o":[215]},
      {"c":"1","r":"OPS","t":"17:30","lo":-25,"q1":21,"m":40,"q3":96,"hi":200,"o":[230]},
      {"c":"1","r":"OPS","t":"18:00","lo":-20,"q1":36,"m":45,"q3":96,"hi":190,"o":[200,260,350]},
      {"c":"1","r":"OPS","t":"18:30","lo":-10,"q1":51,"m":70,"q3":111,"hi":200,"o":[215,275,335,425]},
      {"c":"1","r":"OPS","t":"19:00","lo":-10,"q1":51,"m":75,"q3":126,"hi":210,"o":[230,290,350,440]},
      {"c":"1","r":"OPS","t":"19:30","lo":-20,"q1":36,"m":60,"q3":111,"hi":190,"o":[200,260,320,380]},
      {"c":"1","r":"OPS","t":"20:00","lo":-20,"q1":36,"m":55,"q3":96,"hi":190,"o":[200,260,350]},
      {"c":"1","r":"OPS","t":"20:30","lo":-20,"q1":36,"m":55,"q3":96,"hi":180,"o":[200,245]},
      {"c":"1","r":"OPS","t":"21:00","lo":-15,"q1":36,"m":50,"q3":81,"hi":180,"o":[200,245]},
      {"c":"1","r":"OPS","t":"21:30","lo":-20,"q1":36,"m":50,"q3":81,"hi":180,"o":[215]},
      {"c":"1","r":"OPS","t":"22:00","lo":-15,"q1":36,"m":50,"q3":81,"hi":180,"o":[200]},
      {"c":"1","r":"OPS","t":"22:30","lo":-15,"q1":36,"m":50,"q3":81,"hi":180,"o":[200,245,275]},
      {"c":"1","r":"OPS","t":"23:00","lo":-15,"q1":36,"m":50,"q3":81,"hi":150,"o":[170,215,260]},
      {"c":"1","r":"OPS","t":"23:30","lo":-15,"q1":36,"m":50,"q3":96,"hi":180,"o":[200,260,320]},

      {"c":"2","r":"OPS","t":"00:00","lo":-40,"q1":36,"m":60,"q3":141,"hi":240,"o":[260,320,380,440,500,545]},
      {"c":"2","r":"OPS","t":"00:30","lo":-40,"q1":36,"m":55,"q3":117,"hi":180,"o":[200,260,320,380,455]},
      {"c":"2","r":"OPS","t":"01:00","lo":-40,"q1":21,"m":40,"q3":96,"hi":100,"o":[110,170,230,290,350,410]},
      {"c":"2","r":"OPS","t":"01:30","lo":-40,"q1":21,"m":40,"q3":96,"hi":100,"o":[110,170,230,290,350,410]},
      {"c":"2","r":"OPS","t":"02:00","lo":-40,"q1":21,"m":40,"q3":96,"hi":100,"o":[110,170,230,290,350,410]},
      {"c":"2","r":"OPS","t":"02:30","lo":-40,"q1":21,"m":40,"q3":96,"hi":100,"o":[110,170,230,290,350,410]},
      {"c":"2","r":"OPS","t":"03:00","lo":-40,"q1":21,"m":40,"q3":96,"hi":100,"o":[110,170,230,290,350,410]},
      {"c":"2","r":"OPS","t":"03:30","lo":-40,"q1":21,"m":40,"q3":96,"hi":100,"o":[110,170,230,290,350,410]},
      {"c":"2","r":"OPS","t":"04:00","lo":-40,"q1":21,"m":40,"q3":96,"hi":100,"o":[110,170,230,290,350,410]},
      {"c":"2","r":"OPS","t":"04:30","lo":-40,"q1":21,"m":40,"q3":96,"hi":100,"o":[110,170,230,290,350,410]},
      {"c":"2","r":"OPS","t":"05:00","lo":-40,"q1":21,"m":40,"q3":96,"hi":100,"o":[-114,-144,110,170,230,290,350,410]},
      {"c":"2","r":"OPS","t":"05:30","lo":-40,"q1":21,"m":40,"q3":96,"hi":100,"o":[-114,-144,110,170,230,290,350,410]},
      {"c":"2","r":"OPS","t":"06:00","lo":-30,"q1":21,"m":40,"q3":96,"hi":100,"o":[110,170,230,290,350,410]},
      {"c":"2","r":"OPS","t":"06:30","lo":-30,"q1":36,"m":70,"q3":141,"hi":260,"o":[290,350,410,470,500]},
      {"c":"2","r":"OPS","t":"07:00","lo":-20,"q1":36,"m":90,"q3":171,"hi":360,"o":[380,440,500,560,620,680,770]},
      {"c":"2","r":"OPS","t":"07:30","lo":-30,"q1":36,"m":55,"q3":126,"hi":260,"o":[290,350,410]},
      {"c":"2","r":"OPS","t":"08:00","lo":-40,"q1":21,"m":40,"q3":96,"hi":190,"o":[200,260,320,350]},
      {"c":"2","r":"OPS","t":"08:30","lo":-40,"q1":21,"m":40,"q3":96,"hi":150,"o":[156,215,275,320]},
      {"c":"2","r":"OPS","t":"09:00","lo":-40,"q1":21,"m":40,"q3":96,"hi":150,"o":[156,215,275,320]},
      {"c":"2","r":"OPS","t":"09:30","lo":-40,"q1":21,"m":40,"q3":96,"hi":150,"o":[156,215,275,320]},
      {"c":"2","r":"OPS","t":"10:00","lo":-40,"q1":21,"m":40,"q3":96,"hi":150,"o":[156,215,275,320]},
      {"c":"2","r":"OPS","t":"10:30","lo":-60,"q1":6,"m":25,"q3":66,"hi":90,"o":[96,156,215,290]},
      {"c":"2","r":"OPS","t":"11:00","lo":-60,"q1":6,"m":25,"q3":66,"hi":90,"o":[96,156,215,290]},
      {"c":"2","r":"OPS","t":"11:30","lo":-60,"q1":6,"m":25,"q3":66,"hi":90,"o":[-75,96,156,215,290]},
      {"c":"2","r":"OPS","t":"12:00","lo":-60,"q1":6,"m":25,"q3":66,"hi":90,"o":[96,156,215,290]},
      {"c":"2","r":"OPS","t":"12:30","lo":-60,"q1":6,"m":25,"q3":66,"hi":90,"o":[-80,96,156,215,290]},
      {"c":"2","r":"OPS","t":"13:00","lo":-60,"q1":6,"m":25,"q3":66,"hi":90,"o":[-80,96,156,215,290]},
      {"c":"2","r":"OPS","t":"13:30","lo":-60,"q1":6,"m":25,"q3":66,"hi":90,"o":[96,156,215,290]},
      {"c":"2","r":"OPS","t":"14:00","lo":-60,"q1":6,"m":25,"q3":66,"hi":90,"o":[96,156,215,290]},
      {"c":"2","r":"OPS","t":"14:30","lo":-60,"q1":6,"m":20,"q3":51,"hi":100,"o":[141,200,260,320]},
      {"c":"2","r":"OPS","t":"15:00","lo":-60,"q1":6,"m":25,"q3":66,"hi":150,"o":[171,230,290]},
      {"c":"2","r":"OPS","t":"15:30","lo":-60,"q1":6,"m":30,"q3":81,"hi":140,"o":[156,215,260,305]},
      {"c":"2","r":"OPS","t":"16:00","lo":-40,"q1":21,"m":50,"q3":111,"hi":210,"o":[230,290,365]},
      {"c":"2","r":"OPS","t":"16:30","lo":-40,"q1":21,"m":50,"q3":111,"hi":380},
      {"c":"2","r":"OPS","t":"17:00","lo":-30,"q1":36,"m":80,"q3":171,"hi":350,"o":[380,410]},
      {"c":"2","r":"OPS","t":"17:30","lo":-30,"q1":36,"m":70,"q3":155,"hi":350,"o":[395]},
      {"c":"2","r":"OPS","t":"18:00","lo":-10,"q1":51,"m":100,"q3":215,"hi":395},
      {"c":"2","r":"OPS","t":"18:30","lo":-10,"q1":51,"m":110,"q3":215,"hi":395},
      {"c":"2","r":"OPS","t":"19:00","lo":-10,"q1":51,"m":90,"q3":186,"hi":395},
      {"c":"2","r":"OPS","t":"19:30","lo":-25,"q1":51,"m":90,"q3":186,"hi":395},
      {"c":"2","r":"OPS","t":"20:00","lo":-130,"q1":51,"m":80,"q3":171,"hi":380},
      {"c":"2","r":"OPS","t":"20:30","lo":-30,"q1":36,"m":60,"q3":155,"hi":330,"o":[365,410]},
      {"c":"2","r":"OPS","t":"21:00","lo":-30,"q1":36,"m":55,"q3":126,"hi":240,"o":[245,305,365]},
      {"c":"2","r":"OPS","t":"21:30","lo":-30,"q1":36,"m":55,"q3":126,"hi":240,"o":[260,320]},
      {"c":"2","r":"OPS","t":"22:00","lo":-30,"q1":36,"m":55,"q3":126,"hi":230,"o":[245,305]},
      {"c":"2","r":"OPS","t":"22:30","lo":-30,"q1":36,"m":60,"q3":155,"hi":300,"o":[320,380,440]},
      {"c":"2","r":"OPS","t":"23:00","lo":-30,"q1":36,"m":55,"q3":126,"hi":240,"o":[260,320,410]},
      {"c":"2","r":"OPS","t":"23:30","lo":-30,"q1":36,"m":60,"q3":155,"hi":300,"o":[320,380,440,500,575]},

      {"c":"3","r":"PKL","t":"07:30","lo":0.116,"q1":0.126,"m":0.138,"q3":0.15,"hi":0.169,"o":[0.072]},
      {"c":"3","r":"PKL","t":"08:00","lo":0.106,"q1":0.14,"m":0.155,"q3":0.179,"hi":0.203,"o":[0.072]},
      {"c":"3","r":"PKL","t":"08:30","lo":0.08,"q1":0.164,"m":0.185,"q3":0.213,"hi":0.246,"o":[0.072]},
      {"c":"3","r":"PKL","t":"09:00","lo":0.08,"q1":0.18,"m":0.205,"q3":0.24,"hi":0.285,"o":[0.075]},
      {"c":"3","r":"PKL","t":"09:30","lo":0.075,"q1":0.193,"m":0.225,"q3":0.27,"hi":0.324,"o":[0.068]},
      {"c":"3","r":"PKL","t":"10:00","lo":0.075,"q1":0.193,"m":0.23,"q3":0.275,"hi":0.333,"o":[0.068]},
      {"c":"3","r":"PKL","t":"10:30","lo":0.072,"q1":0.184,"m":0.225,"q3":0.27,"hi":0.333},
      {"c":"3","r":"PKL","t":"11:00","lo":0.072,"q1":0.184,"m":0.222,"q3":0.261,"hi":0.333},
      {"c":"3","r":"PKL","t":"11:30","lo":0.08,"q1":0.179,"m":0.218,"q3":0.256,"hi":0.333,"o":[0.068]},
      {"c":"3","r":"PKL","t":"12:00","lo":0.068,"q1":0.174,"m":0.213,"q3":0.251,"hi":0.324},
      {"c":"3","r":"PKL","t":"12:30","lo":0.063,"q1":0.169,"m":0.208,"q3":0.246,"hi":0.324},
      {"c":"3","r":"PKL","t":"13:00","lo":0.063,"q1":0.164,"m":0.203,"q3":0.237,"hi":0.324},
      {"c":"3","r":"PKL","t":"13:30","lo":0.063,"q1":0.159,"m":0.198,"q3":0.232,"hi":0.324},
      {"c":"3","r":"PKL","t":"14:00","lo":0.063,"q1":0.159,"m":0.195,"q3":0.227,"hi":0.319},
      {"c":"3","r":"PKL","t":"14:30","lo":0.063,"q1":0.159,"m":0.193,"q3":0.227,"hi":0.314},
      {"c":"3","r":"PKL","t":"15:00","lo":0.063,"q1":0.155,"m":0.188,"q3":0.217,"hi":0.309},
      {"c":"3","r":"PKL","t":"15:30","lo":0.063,"q1":0.15,"m":0.184,"q3":0.213,"hi":0.304},
      {"c":"3","r":"PKL","t":"16:00","lo":0.063,"q1":0.15,"m":0.179,"q3":0.208,"hi":0.295},
      {"c":"3","r":"PKL","t":"16:30","lo":0.068,"q1":0.145,"m":0.174,"q3":0.203,"hi":0.285},
      {"c":"3","r":"PKL","t":"17:00","lo":0.072,"q1":0.14,"m":0.164,"q3":0.188,"hi":0.27},
      {"c":"3","r":"PKL","t":"17:30","lo":0.077,"q1":0.135,"m":0.155,"q3":0.174,"hi":0.246},
      {"c":"3","r":"PKL","t":"18:00","lo":0.082,"q1":0.13,"m":0.145,"q3":0.164,"hi":0.227},
      {"c":"3","r":"PKL","t":"18:30","lo":0.087,"q1":0.126,"m":0.138,"q3":0.155,"hi":0.208},
      {"c":"3","r":"PKL","t":"19:00","lo":0.087,"q1":0.121,"m":0.13,"q3":0.145,"hi":0.188},
      {"c":"3","r":"PKL","t":"19:30","lo":0.087,"q1":0.116,"m":0.125,"q3":0.135,"hi":0.179},
      {"c":"3","r":"PKL","t":"20:00","lo":0.087,"q1":0.111,"m":0.12,"q3":0.13,"hi":0.169},
      {"c":"3","r":"PKL","t":"20:30","lo":0.087,"q1":0.106,"m":0.113,"q3":0.121,"hi":0.159},
      {"c":"3","r":"PKL","t":"21:00","lo":0.087,"q1":0.101,"m":0.108,"q3":0.116,"hi":0.15},
      {"c":"3","r":"PKL","t":"21:30","lo":0.087,"q1":0.097,"m":0.104,"q3":0.111,"hi":0.14},
      {"c":"3","r":"PKL","t":"22:00","lo":0.082,"q1":0.092,"m":0.099,"q3":0.106,"hi":0.126,"o":[0.111]},

      {"c":"4","r":"PKL","t":"07:30","lo":0.1,"q1":0.13,"m":0.14,"q3":0.155,"hi":0.18,"o":[0.055,0.068,0.08,0.09,0.195]},
      {"c":"4","r":"PKL","t":"08:00","lo":0.1,"q1":0.14,"m":0.15,"q3":0.164,"hi":0.2,"o":[0.055,0.068,0.08,0.09,0.222]},
      {"c":"4","r":"PKL","t":"08:30","lo":0.1,"q1":0.145,"m":0.16,"q3":0.174,"hi":0.23,"o":[0.055,0.068,0.08,0.092,0.24,0.258]},
      {"c":"4","r":"PKL","t":"09:00","lo":0.1,"q1":0.15,"m":0.165,"q3":0.181,"hi":0.23,"o":[0.055,0.068,0.08,0.092,0.245,0.26]},
      {"c":"4","r":"PKL","t":"09:30","lo":0.1,"q1":0.152,"m":0.167,"q3":0.184,"hi":0.24,"o":[0.055,0.068,0.08,0.092,0.255,0.275,0.285]},
      {"c":"4","r":"PKL","t":"10:00","lo":0.1,"q1":0.152,"m":0.168,"q3":0.184,"hi":0.24,"o":[0.055,0.068,0.08,0.09,0.26,0.295]},
      {"c":"4","r":"PKL","t":"10:30","lo":0.1,"q1":0.152,"m":0.168,"q3":0.184,"hi":0.24,"o":[0.055,0.068,0.08,0.09,0.26,0.3]},
      {"c":"4","r":"PKL","t":"11:00","lo":0.1,"q1":0.148,"m":0.168,"q3":0.188,"hi":0.245,"o":[0.055,0.068,0.08,0.09,0.265,0.306]},
      {"c":"4","r":"PKL","t":"11:30","lo":0.1,"q1":0.148,"m":0.165,"q3":0.188,"hi":0.245,"o":[0.055,0.068,0.08,0.09,0.266,0.314]},
      {"c":"4","r":"PKL","t":"12:00","lo":0.1,"q1":0.145,"m":0.16,"q3":0.179,"hi":0.24,"o":[0.055,0.068,0.08,0.255,0.27,0.312]},
      {"c":"4","r":"PKL","t":"12:30","lo":0.095,"q1":0.142,"m":0.158,"q3":0.177,"hi":0.22,"o":[0.055,0.068,0.08,0.228,0.25,0.275,0.304]},
      {"c":"4","r":"PKL","t":"13:00","lo":0.095,"q1":0.14,"m":0.155,"q3":0.174,"hi":0.22,"o":[0.055,0.068,0.08,0.228,0.25,0.275,0.304]},
      {"c":"4","r":"PKL","t":"13:30","lo":0.095,"q1":0.142,"m":0.156,"q3":0.177,"hi":0.22,"o":[0.06,0.072,0.085,0.228,0.25,0.275,0.304]},
      {"c":"4","r":"PKL","t":"14:00","lo":0.09,"q1":0.14,"m":0.155,"q3":0.174,"hi":0.21,"o":[0.06,0.072,0.085,0.218,0.24,0.265,0.295]},
      {"c":"4","r":"PKL","t":"14:30","lo":0.09,"q1":0.135,"m":0.15,"q3":0.169,"hi":0.2,"o":[0.063,0.075,0.208,0.23,0.255,0.285]},
      {"c":"4","r":"PKL","t":"15:00","lo":0.09,"q1":0.126,"m":0.145,"q3":0.164,"hi":0.19,"o":[0.063,0.075,0.198,0.22,0.245,0.275]},
      {"c":"4","r":"PKL","t":"15:30","lo":0.085,"q1":0.121,"m":0.138,"q3":0.159,"hi":0.18,"o":[0.185,0.21,0.235,0.265]},
      {"c":"4","r":"PKL","t":"16:00","lo":0.085,"q1":0.116,"m":0.13,"q3":0.15,"hi":0.17,"o":[0.176,0.2,0.225,0.255]},
      {"c":"4","r":"PKL","t":"16:30","lo":0.085,"q1":0.111,"m":0.123,"q3":0.14,"hi":0.16,"o":[0.165,0.185,0.21,0.24]},
      {"c":"4","r":"PKL","t":"17:00","lo":0.085,"q1":0.106,"m":0.117,"q3":0.13,"hi":0.14,"o":[0.145,0.165,0.19,0.208]},
      {"c":"4","r":"PKL","t":"17:30","lo":0.085,"q1":0.101,"m":0.11,"q3":0.121,"hi":0.13,"o":[0.135,0.155,0.18]},
      {"c":"4","r":"PKL","t":"18:00","lo":0.088,"q1":0.101,"m":0.108,"q3":0.116,"hi":0.125,"o":[0.13,0.15,0.17]},
      {"c":"4","r":"PKL","t":"18:30","lo":0.088,"q1":0.1,"m":0.107,"q3":0.115,"hi":0.118,"o":[0.122,0.145,0.165]},
      {"c":"4","r":"PKL","t":"19:00","lo":0.088,"q1":0.097,"m":0.105,"q3":0.116,"hi":0.12,"o":[0.082,0.125,0.14,0.16]},
      {"c":"4","r":"PKL","t":"19:30","lo":0.088,"q1":0.097,"m":0.105,"q3":0.116,"hi":0.118,"o":[0.122,0.135,0.155]},
      {"c":"4","r":"PKL","t":"20:00","lo":0.085,"q1":0.097,"m":0.103,"q3":0.111,"hi":0.113,"o":[0.117,0.13,0.15]},
      {"c":"4","r":"PKL","t":"20:30","lo":0.085,"q1":0.094,"m":0.1,"q3":0.109,"hi":0.11,"o":[0.113,0.125,0.14]},
      {"c":"4","r":"PKL","t":"21:00","lo":0.083,"q1":0.092,"m":0.098,"q3":0.106,"hi":0.108,"o":[0.112,0.125,0.135]},
      {"c":"4","r":"PKL","t":"21:30","lo":0.08,"q1":0.087,"m":0.094,"q3":0.101,"hi":0.103,"o":[0.106,0.115,0.125]},
      {"c":"4","r":"PKL","t":"22:00","lo":0.075,"q1":0.082,"m":0.09,"q3":0.097,"hi":0.1,"o":[0.104,0.11,0.116]},

      {"c":"1","r":"PKL","t":"07:30","lo":0.1,"q1":0.13,"m":0.14,"q3":0.155,"hi":0.19,"o":[0.079,0.217]},
      {"c":"1","r":"PKL","t":"08:00","lo":0.1,"q1":0.14,"m":0.15,"q3":0.164,"hi":0.2,"o":[0.079,0.215,0.235,0.256]},
      {"c":"1","r":"PKL","t":"08:30","lo":0.1,"q1":0.155,"m":0.165,"q3":0.179,"hi":0.22,"o":[0.079,0.246,0.304]},
      {"c":"1","r":"PKL","t":"09:00","lo":0.1,"q1":0.159,"m":0.17,"q3":0.184,"hi":0.23,"o":[0.079,0.242,0.26,0.333]},
      {"c":"1","r":"PKL","t":"09:30","lo":0.1,"q1":0.159,"m":0.175,"q3":0.193,"hi":0.24,"o":[0.079,0.256,0.275,0.295,0.353]},
      {"c":"1","r":"PKL","t":"10:00","lo":0.1,"q1":0.159,"m":0.175,"q3":0.193,"hi":0.24,"o":[0.079,0.256,0.275,0.295,0.315,0.334,0.372]},
      {"c":"1","r":"PKL","t":"10:30","lo":0.1,"q1":0.161,"m":0.177,"q3":0.193,"hi":0.24,"o":[0.079,0.266,0.285,0.305,0.325,0.343,0.382]},
      {"c":"1","r":"PKL","t":"11:00","lo":0.1,"q1":0.161,"m":0.178,"q3":0.196,"hi":0.24,"o":[0.079,0.266,0.285,0.305,0.325,0.343,0.389]},
      {"c":"1","r":"PKL","t":"11:30","lo":0.1,"q1":0.159,"m":0.18,"q3":0.2,"hi":0.25,"o":[0.079,0.271,0.29,0.31,0.33,0.35,0.396]},
      {"c":"1","r":"PKL","t":"12:00","lo":0.1,"q1":0.159,"m":0.18,"q3":0.203,"hi":0.25,"o":[0.079,0.266,0.285,0.305,0.325,0.348,0.386]},
      {"c":"1","r":"PKL","t":"12:30","lo":0.1,"q1":0.159,"m":0.18,"q3":0.203,"hi":0.25,"o":[0.077,0.266,0.285,0.305,0.325,0.353,0.382]},
      {"c":"1","r":"PKL","t":"13:00","lo":0.1,"q1":0.159,"m":0.18,"q3":0.203,"hi":0.26,"o":[0.077,0.295,0.315,0.353,0.377]},
      {"c":"1","r":"PKL","t":"13:30","lo":0.1,"q1":0.159,"m":0.18,"q3":0.203,"hi":0.25,"o":[0.077,0.275,0.295,0.315,0.335,0.353,0.377]},
      {"c":"1","r":"PKL","t":"14:00","lo":0.1,"q1":0.159,"m":0.18,"q3":0.203,"hi":0.24,"o":[0.077,0.256,0.275,0.295,0.315,0.377]},
      {"c":"1","r":"PKL","t":"14:30","lo":0.1,"q1":0.155,"m":0.18,"q3":0.203,"hi":0.24,"o":[0.077,0.256,0.275,0.295,0.315,0.377]},
      {"c":"1","r":"PKL","t":"15:00","lo":0.1,"q1":0.155,"m":0.175,"q3":0.193,"hi":0.235,"o":[0.077,0.246,0.265,0.285,0.305,0.343,0.377]},
      {"c":"1","r":"PKL","t":"15:30","lo":0.1,"q1":0.15,"m":0.17,"q3":0.188,"hi":0.22,"o":[0.077,0.227,0.246,0.266,0.343,0.372]},
      {"c":"1","r":"PKL","t":"16:00","lo":0.095,"q1":0.14,"m":0.16,"q3":0.179,"hi":0.21,"o":[0.079,0.22,0.24,0.26,0.324]},
      {"c":"1","r":"PKL","t":"16:30","lo":0.09,"q1":0.126,"m":0.145,"q3":0.164,"hi":0.195,"o":[0.205,0.225,0.245,0.265,0.285]},
      {"c":"1","r":"PKL","t":"17:00","lo":0.09,"q1":0.121,"m":0.135,"q3":0.15,"hi":0.17,"o":[0.18,0.2,0.22,0.25]},
      {"c":"1","r":"PKL","t":"17:30","lo":0.09,"q1":0.116,"m":0.125,"q3":0.135,"hi":0.15,"o":[0.16,0.18,0.2,0.22]},
      {"c":"1","r":"PKL","t":"18:00","lo":0.09,"q1":0.106,"m":0.115,"q3":0.126,"hi":0.14,"o":[0.15,0.17,0.2]},
      {"c":"1","r":"PKL","t":"18:30","lo":0.088,"q1":0.101,"m":0.11,"q3":0.121,"hi":0.135,"o":[0.14,0.16,0.18,0.2]},
      {"c":"1","r":"PKL","t":"19:00","lo":0.088,"q1":0.101,"m":0.11,"q3":0.121,"hi":0.128,"o":[0.133,0.15,0.17,0.19]},
      {"c":"1","r":"PKL","t":"19:30","lo":0.088,"q1":0.101,"m":0.108,"q3":0.116,"hi":0.125,"o":[0.13,0.15,0.17,0.188]},
      {"c":"1","r":"PKL","t":"20:00","lo":0.085,"q1":0.097,"m":0.104,"q3":0.111,"hi":0.118,"o":[0.122,0.14,0.16,0.175]},
      {"c":"1","r":"PKL","t":"20:30","lo":0.085,"q1":0.094,"m":0.1,"q3":0.106,"hi":0.112,"o":[0.117,0.13,0.15,0.17]},
      {"c":"1","r":"PKL","t":"21:00","lo":0.082,"q1":0.09,"m":0.097,"q3":0.103,"hi":0.108,"o":[0.112,0.125,0.14,0.16]},
      {"c":"1","r":"PKL","t":"21:30","lo":0.08,"q1":0.087,"m":0.094,"q3":0.101,"hi":0.104,"o":[0.107,0.12,0.135,0.15]},
      {"c":"1","r":"PKL","t":"22:00","lo":0.075,"q1":0.082,"m":0.09,"q3":0.097,"hi":0.1,"o":[0.103,0.115,0.13,0.14]},

      {"c":"2","r":"PKL","t":"07:30","lo":0.097,"q1":0.121,"m":0.135,"q3":0.15,"hi":0.174},
      {"c":"2","r":"PKL","t":"08:00","lo":0.106,"q1":0.14,"m":0.155,"q3":0.174,"hi":0.208},
      {"c":"2","r":"PKL","t":"08:30","lo":0.106,"q1":0.159,"m":0.18,"q3":0.213,"hi":0.246},
      {"c":"2","r":"PKL","t":"09:00","lo":0.111,"q1":0.169,"m":0.2,"q3":0.242,"hi":0.3},
      {"c":"2","r":"PKL","t":"09:30","lo":0.121,"q1":0.188,"m":0.23,"q3":0.266,"hi":0.333},
      {"c":"2","r":"PKL","t":"10:00","lo":0.13,"q1":0.188,"m":0.235,"q3":0.275,"hi":0.338},
      {"c":"2","r":"PKL","t":"10:30","lo":0.13,"q1":0.188,"m":0.235,"q3":0.275,"hi":0.338},
      {"c":"2","r":"PKL","t":"11:00","lo":0.135,"q1":0.184,"m":0.23,"q3":0.271,"hi":0.333},
      {"c":"2","r":"PKL","t":"11:30","lo":0.13,"q1":0.184,"m":0.225,"q3":0.261,"hi":0.324},
      {"c":"2","r":"PKL","t":"12:00","lo":0.126,"q1":0.179,"m":0.22,"q3":0.256,"hi":0.319},
      {"c":"2","r":"PKL","t":"12:30","lo":0.121,"q1":0.179,"m":0.215,"q3":0.251,"hi":0.309},
      {"c":"2","r":"PKL","t":"13:00","lo":0.121,"q1":0.174,"m":0.21,"q3":0.242,"hi":0.3},
      {"c":"2","r":"PKL","t":"13:30","lo":0.116,"q1":0.174,"m":0.205,"q3":0.237,"hi":0.295},
      {"c":"2","r":"PKL","t":"14:00","lo":0.116,"q1":0.169,"m":0.2,"q3":0.232,"hi":0.29},
      {"c":"2","r":"PKL","t":"14:30","lo":0.111,"q1":0.169,"m":0.198,"q3":0.227,"hi":0.285},
      {"c":"2","r":"PKL","t":"15:00","lo":0.111,"q1":0.169,"m":0.196,"q3":0.227,"hi":0.28},
      {"c":"2","r":"PKL","t":"15:30","lo":0.106,"q1":0.164,"m":0.193,"q3":0.222,"hi":0.275},
      {"c":"2","r":"PKL","t":"16:00","lo":0.106,"q1":0.164,"m":0.19,"q3":0.217,"hi":0.271},
      {"c":"2","r":"PKL","t":"16:30","lo":0.101,"q1":0.159,"m":0.185,"q3":0.213,"hi":0.261},
      {"c":"2","r":"PKL","t":"17:00","lo":0.101,"q1":0.155,"m":0.178,"q3":0.203,"hi":0.251},
      {"c":"2","r":"PKL","t":"17:30","lo":0.097,"q1":0.15,"m":0.17,"q3":0.193,"hi":0.237},
      {"c":"2","r":"PKL","t":"18:00","lo":0.092,"q1":0.14,"m":0.16,"q3":0.179,"hi":0.222},
      {"c":"2","r":"PKL","t":"18:30","lo":0.087,"q1":0.135,"m":0.15,"q3":0.164,"hi":0.203},
      {"c":"2","r":"PKL","t":"19:00","lo":0.087,"q1":0.126,"m":0.14,"q3":0.155,"hi":0.193},
      {"c":"2","r":"PKL","t":"19:30","lo":0.087,"q1":0.121,"m":0.132,"q3":0.145,"hi":0.179},
      {"c":"2","r":"PKL","t":"20:00","lo":0.082,"q1":0.116,"m":0.125,"q3":0.135,"hi":0.164},
      {"c":"2","r":"PKL","t":"20:30","lo":0.082,"q1":0.111,"m":0.118,"q3":0.126,"hi":0.155},
      {"c":"2","r":"PKL","t":"21:00","lo":0.077,"q1":0.106,"m":0.112,"q3":0.119,"hi":0.14},
      {"c":"2","r":"PKL","t":"21:30","lo":0.077,"q1":0.099,"m":0.105,"q3":0.111,"hi":0.13},
      {"c":"2","r":"PKL","t":"22:00","lo":0.072,"q1":0.094,"m":0.1,"q3":0.106,"hi":0.121},

      {"c":"3","r":"PKS","t":"07:30","lo":-27,"q1":62,"m":110,"q3":217,"hi":400,"o":[416,506,596,686,776]},
      {"c":"3","r":"PKS","t":"08:00","lo":-27,"q1":84,"m":120,"q3":217,"hi":400,"o":[416,506,596,686,776]},
      {"c":"3","r":"PKS","t":"08:30","lo":-40,"q1":62,"m":100,"q3":195,"hi":270,"o":[283,373,463,553,643,733,776]},
      {"c":"3","r":"PKS","t":"09:00","lo":-45,"q1":40,"m":80,"q3":173,"hi":270,"o":[283,373,463,553,643,733,776]},
      {"c":"3","r":"PKS","t":"09:30","lo":-45,"q1":40,"m":70,"q3":150,"hi":230,"o":[239,329,419,509,599,689,776]},
      {"c":"3","r":"PKS","t":"10:00","lo":-45,"q1":40,"m":70,"q3":150,"hi":230,"o":[239,329,419,509,599,689,776]},
      {"c":"3","r":"PKS","t":"10:30","lo":-45,"q1":40,"m":60,"q3":128,"hi":230,"o":[239,329,419,509,599,689,776]},
      {"c":"3","r":"PKS","t":"11:00","lo":-50,"q1":18,"m":50,"q3":128,"hi":210,"o":[217,307,397,487,577,667,757]},
      {"c":"3","r":"PKS","t":"11:30","lo":-50,"q1":18,"m":45,"q3":106,"hi":190,"o":[195,285,375,465,555,645,735,776]},
      {"c":"3","r":"PKS","t":"12:00","lo":-50,"q1":18,"m":45,"q3":106,"hi":145,"o":[150,240,330,420,510,600,690,776]},
      {"c":"3","r":"PKS","t":"12:30","lo":-55,"q1":-4,"m":40,"q3":106,"hi":125,"o":[128,218,308,398,488,578,668,758]},
      {"c":"3","r":"PKS","t":"13:00","lo":-55,"q1":-4,"m":35,"q3":84,"hi":125,"o":[128,218,308,398,488,578,668]},
      {"c":"3","r":"PKS","t":"13:30","lo":-55,"q1":-4,"m":35,"q3":84,"hi":125,"o":[128,218,308,398,488,578,640]},
      {"c":"3","r":"PKS","t":"14:00","lo":-55,"q1":-4,"m":35,"q3":84,"hi":125,"o":[128,218,308,398,488,578,668,758]},
      {"c":"3","r":"PKS","t":"14:30","lo":-50,"q1":18,"m":40,"q3":106,"hi":125,"o":[128,218,308,398,488,578,668,758]},
      {"c":"3","r":"PKS","t":"15:00","lo":-50,"q1":18,"m":40,"q3":106,"hi":125,"o":[128,218,308,398,488,578,668,758]},
      {"c":"3","r":"PKS","t":"15:30","lo":-50,"q1":18,"m":45,"q3":128,"hi":145,"o":[150,240,330,420,510,600,690,776]},
      {"c":"3","r":"PKS","t":"16:00","lo":-40,"q1":40,"m":70,"q3":173,"hi":190,"o":[195,285,375,465,555,645,735,776]},
      {"c":"3","r":"PKS","t":"16:30","lo":-30,"q1":62,"m":100,"q3":217,"hi":400,"o":[416,506,596,686,776]},
      {"c":"3","r":"PKS","t":"17:00","lo":-30,"q1":84,"m":130,"q3":261,"hi":540,"o":[550,640,730,776]},
      {"c":"3","r":"PKS","t":"17:30","lo":-25,"q1":84,"m":140,"q3":283,"hi":580,"o":[593,683,776]},
      {"c":"3","r":"PKS","t":"18:00","lo":-10,"q1":128,"m":200,"q3":327,"hi":620,"o":[637,727,776]},
      {"c":"3","r":"PKS","t":"18:30","lo":0,"q1":128,"m":210,"q3":350,"hi":670,"o":[681,776]},
      {"c":"3","r":"PKS","t":"19:00","lo":-10,"q1":106,"m":180,"q3":305,"hi":590,"o":[593,683,776]},
      {"c":"3","r":"PKS","t":"19:30","lo":-20,"q1":84,"m":150,"q3":283,"hi":540,"o":[549,639,729,776]},
      {"c":"3","r":"PKS","t":"20:00","lo":-20,"q1":84,"m":140,"q3":261,"hi":450,"o":[460,550,640,730,776]},
      {"c":"3","r":"PKS","t":"20:30","lo":-25,"q1":70,"m":130,"q3":239,"hi":410,"o":[416,506,596,686,776]},
      {"c":"3","r":"PKS","t":"21:00","lo":-25,"q1":62,"m":120,"q3":230,"hi":410,"o":[416,506,596,686,776]},
      {"c":"3","r":"PKS","t":"21:30","lo":-25,"q1":62,"m":120,"q3":230,"hi":410,"o":[416,506,596,686,776]},
      {"c":"3","r":"PKS","t":"22:00","lo":-25,"q1":62,"m":110,"q3":217,"hi":370,"o":[372,462,552,642,732,776]},

      {"c":"4","r":"PKS","t":"07:30","lo":-40,"q1":10,"m":35,"q3":115,"hi":200,"o":[241,330,420]},
      {"c":"4","r":"PKS","t":"08:00","lo":-40,"q1":10,"m":35,"q3":115,"hi":180,"o":[-272,196,285,375]},
      {"c":"4","r":"PKS","t":"08:30","lo":-50,"q1":0,"m":30,"q3":107,"hi":180,"o":[-94,196,285,375,460,530]},
      {"c":"4","r":"PKS","t":"09:00","lo":-50,"q1":0,"m":25,"q3":85,"hi":180,"o":[-629,-562,-294,196,285,375,464]},
      {"c":"4","r":"PKS","t":"09:30","lo":-60,"q1":-27,"m":20,"q3":74,"hi":170,"o":[-763,-700,-629,-406,-340,196,285,375]},
      {"c":"4","r":"PKS","t":"10:00","lo":-60,"q1":-27,"m":20,"q3":74,"hi":180,"o":[-294,196,285,375,486]},
      {"c":"4","r":"PKS","t":"10:30","lo":-60,"q1":-27,"m":15,"q3":74,"hi":150,"o":[196,285,340]},
      {"c":"4","r":"PKS","t":"11:00","lo":-70,"q1":-27,"m":10,"q3":62,"hi":150,"o":[-272,196,285,340]},
      {"c":"4","r":"PKS","t":"11:30","lo":-70,"q1":-27,"m":10,"q3":62,"hi":150,"o":[-183,174,241,330]},
      {"c":"4","r":"PKS","t":"12:00","lo":-70,"q1":-27,"m":10,"q3":62,"hi":150,"o":[-160,196,285,375,464,531]},
      {"c":"4","r":"PKS","t":"12:30","lo":-70,"q1":-27,"m":10,"q3":62,"hi":150,"o":[-294,196,285,375,464,531]},
      {"c":"4","r":"PKS","t":"13:00","lo":-70,"q1":-27,"m":10,"q3":62,"hi":150,"o":[196,285,375,464,531]},
      {"c":"4","r":"PKS","t":"13:30","lo":-70,"q1":-27,"m":10,"q3":62,"hi":200,"o":[-1040,-896,-272,285,375,464,531]},
      {"c":"4","r":"PKS","t":"14:00","lo":-70,"q1":-27,"m":15,"q3":62,"hi":180,"o":[196,285,375,419]},
      {"c":"4","r":"PKS","t":"14:30","lo":-70,"q1":-27,"m":15,"q3":62,"hi":250,"o":[285]},
      {"c":"4","r":"PKS","t":"15:00","lo":-60,"q1":-10,"m":20,"q3":85,"hi":180,"o":[-294,196,285,375,486]},
      {"c":"4","r":"PKS","t":"15:30","lo":-60,"q1":-10,"m":25,"q3":85,"hi":150,"o":[-150,-130,174,241,330,420,531]},
      {"c":"4","r":"PKS","t":"16:00","lo":-50,"q1":-10,"m":25,"q3":85,"hi":180,"o":[-160,-94,196,285,375,464,531]},
      {"c":"4","r":"PKS","t":"16:30","lo":-30,"q1":18,"m":40,"q3":107,"hi":190,"o":[196,285,375,464]},
      {"c":"4","r":"PKS","t":"17:00","lo":-30,"q1":18,"m":45,"q3":107,"hi":190,"o":[196,285,375,464]},
      {"c":"4","r":"PKS","t":"17:30","lo":-20,"q1":18,"m":50,"q3":129,"hi":220,"o":[241,330,464]},
      {"c":"4","r":"PKS","t":"18:00","lo":0,"q1":40,"m":70,"q3":174,"hi":250,"o":[285,375,486]},
      {"c":"4","r":"PKS","t":"18:30","lo":10,"q1":62,"m":100,"q3":196,"hi":330,"o":[375,464,531]},
      {"c":"4","r":"PKS","t":"19:00","lo":10,"q1":62,"m":110,"q3":241,"hi":420,"o":[460,531]},
      {"c":"4","r":"PKS","t":"19:30","lo":10,"q1":62,"m":100,"q3":196,"hi":330,"o":[375,464,531]},
      {"c":"4","r":"PKS","t":"20:00","lo":10,"q1":62,"m":90,"q3":174,"hi":320,"o":[330,419,508]},
      {"c":"4","r":"PKS","t":"20:30","lo":0,"q1":40,"m":70,"q3":152,"hi":270,"o":[285,375,486]},
      {"c":"4","r":"PKS","t":"21:00","lo":-10,"q1":18,"m":50,"q3":129,"hi":230,"o":[241,330,419]},
      {"c":"4","r":"PKS","t":"21:30","lo":-10,"q1":18,"m":50,"q3":129,"hi":220,"o":[241,330,419]},
      {"c":"4","r":"PKS","t":"22:00","lo":-10,"q1":18,"m":50,"q3":129,"hi":220,"o":[241,330,375]},

      {"c":"1","r":"PKS","t":"07:30","lo":-20,"q1":0,"m":25,"q3":85,"hi":150,"o":[196,240,285]},
      {"c":"1","r":"PKS","t":"08:00","lo":-20,"q1":0,"m":25,"q3":80,"hi":150,"o":[196,285,375,441]},
      {"c":"1","r":"PKS","t":"08:30","lo":-20,"q1":0,"m":25,"q3":80,"hi":150,"o":[218,285,375]},
      {"c":"1","r":"PKS","t":"09:00","lo":-20,"q1":0,"m":25,"q3":80,"hi":150,"o":[218,285]},
      {"c":"1","r":"PKS","t":"09:30","lo":-30,"q1":-4,"m":20,"q3":74,"hi":150,"o":[196,240,285]},
      {"c":"1","r":"PKS","t":"10:00","lo":-30,"q1":-4,"m":20,"q3":74,"hi":150,"o":[-71,196,285,375]},
      {"c":"1","r":"PKS","t":"10:30","lo":-30,"q1":-4,"m":20,"q3":62,"hi":150,"o":[-71,196,285,330]},
      {"c":"1","r":"PKS","t":"11:00","lo":-30,"q1":-4,"m":20,"q3":62,"hi":150,"o":[-71,196,285,350]},
      {"c":"1","r":"PKS","t":"11:30","lo":-30,"q1":-4,"m":20,"q3":62,"hi":150,"o":[-71,241]},
      {"c":"1","r":"PKS","t":"12:00","lo":-30,"q1":-4,"m":20,"q3":62,"hi":150,"o":[-473,-420,-361,-71,196,285,350]},
      {"c":"1","r":"PKS","t":"12:30","lo":-30,"q1":-4,"m":20,"q3":62,"hi":150,"o":[-71,196,285,375]},
      {"c":"1","r":"PKS","t":"13:00","lo":-30,"q1":-4,"m":20,"q3":62,"hi":150,"o":[196,285,375]},
      {"c":"1","r":"PKS","t":"13:30","lo":-30,"q1":-4,"m":20,"q3":62,"hi":150,"o":[-294,241,330,419]},
      {"c":"1","r":"PKS","t":"14:00","lo":-30,"q1":-4,"m":20,"q3":62,"hi":150,"o":[-450,-400,-339,218,285,397]},
      {"c":"1","r":"PKS","t":"14:30","lo":-30,"q1":-4,"m":20,"q3":62,"hi":150,"o":[-963,-183,-160,218,285,419]},
      {"c":"1","r":"PKS","t":"15:00","lo":-30,"q1":-4,"m":20,"q3":62,"hi":150,"o":[-473,-94,-71,196,285,375,776]},
      {"c":"1","r":"PKS","t":"15:30","lo":-30,"q1":-4,"m":20,"q3":62,"hi":150,"o":[-71,196,285,464,776]},
      {"c":"1","r":"PKS","t":"16:00","lo":-30,"q1":-4,"m":20,"q3":62,"hi":150,"o":[-71,218,285,375,531,776]},
      {"c":"1","r":"PKS","t":"16:30","lo":-30,"q1":-4,"m":20,"q3":74,"hi":150,"o":[-406,-339,-71,218,285,375,508,776]},
      {"c":"1","r":"PKS","t":"17:00","lo":-30,"q1":-4,"m":20,"q3":62,"hi":150,"o":[241,330,419,776]},
      {"c":"1","r":"PKS","t":"17:30","lo":-30,"q1":-4,"m":20,"q3":74,"hi":150,"o":[-71,196,241,776]},
      {"c":"1","r":"PKS","t":"18:00","lo":-25,"q1":0,"m":30,"q3":107,"hi":180,"o":[218,285,419,776]},
      {"c":"1","r":"PKS","t":"18:30","lo":-20,"q1":18,"m":40,"q3":107,"hi":200,"o":[218,285,441,776]},
      {"c":"1","r":"PKS","t":"19:00","lo":-15,"q1":18,"m":50,"q3":129,"hi":220,"o":[241,330,419,553,776]},
      {"c":"1","r":"PKS","t":"19:30","lo":-20,"q1":18,"m":45,"q3":107,"hi":200,"o":[218,285,375]},
      {"c":"1","r":"PKS","t":"20:00","lo":-20,"q1":18,"m":40,"q3":107,"hi":200,"o":[241,330,441]},
      {"c":"1","r":"PKS","t":"20:30","lo":-20,"q1":18,"m":35,"q3":107,"hi":180,"o":[218,285]},
      {"c":"1","r":"PKS","t":"21:00","lo":-20,"q1":18,"m":35,"q3":107,"hi":180,"o":[218,285]},
      {"c":"1","r":"PKS","t":"21:30","lo":-20,"q1":18,"m":35,"q3":107,"hi":180,"o":[218,285]},
      {"c":"1","r":"PKS","t":"22:00","lo":-20,"q1":18,"m":35,"q3":107,"hi":180,"o":[218,285]},

      {"c":"2","r":"PKS","t":"07:30","lo":0,"q1":40,"m":70,"q3":205,"hi":400,"o":[419,508,598,687,776]},
      {"c":"2","r":"PKS","t":"08:00","lo":0,"q1":40,"m":70,"q3":205,"hi":400,"o":[464,553,642,731]},
      {"c":"2","r":"PKS","t":"08:30","lo":0,"q1":40,"m":70,"q3":196,"hi":400,"o":[419,508,598,687]},
      {"c":"2","r":"PKS","t":"09:00","lo":0,"q1":40,"m":60,"q3":174,"hi":350,"o":[375,464,553]},
      {"c":"2","r":"PKS","t":"09:30","lo":-10,"q1":27,"m":50,"q3":160,"hi":320,"o":[330,419,508]},
      {"c":"2","r":"PKS","t":"10:00","lo":-10,"q1":27,"m":50,"q3":152,"hi":270,"o":[285,375,464]},
      {"c":"2","r":"PKS","t":"10:30","lo":-20,"q1":9,"m":40,"q3":152,"hi":270,"o":[285,375,464,642]},
      {"c":"2","r":"PKS","t":"11:00","lo":-20,"q1":9,"m":40,"q3":129,"hi":270,"o":[285,375,464,553,642]},
      {"c":"2","r":"PKS","t":"11:30","lo":-20,"q1":18,"m":40,"q3":129,"hi":270,"o":[285,375,464,553]},
      {"c":"2","r":"PKS","t":"12:00","lo":-20,"q1":18,"m":40,"q3":129,"hi":270,"o":[285,375,464]},
      {"c":"2","r":"PKS","t":"12:30","lo":-20,"q1":18,"m":40,"q3":129,"hi":270,"o":[285,375,441]},
      {"c":"2","r":"PKS","t":"13:00","lo":-20,"q1":18,"m":40,"q3":129,"hi":270,"o":[285,375,441]},
      {"c":"2","r":"PKS","t":"13:30","lo":-20,"q1":18,"m":40,"q3":129,"hi":270,"o":[285,375,464,553]},
      {"c":"2","r":"PKS","t":"14:00","lo":-20,"q1":18,"m":40,"q3":129,"hi":270,"o":[285,375,464]},
      {"c":"2","r":"PKS","t":"14:30","lo":-20,"q1":18,"m":45,"q3":129,"hi":270,"o":[285,375,464,575]},
      {"c":"2","r":"PKS","t":"15:00","lo":-20,"q1":18,"m":45,"q3":152,"hi":270,"o":[285,375,464,553]},
      {"c":"2","r":"PKS","t":"15:30","lo":-20,"q1":18,"m":50,"q3":152,"hi":300,"o":[330,419,508]},
      {"c":"2","r":"PKS","t":"16:00","lo":-20,"q1":18,"m":50,"q3":174,"hi":330,"o":[375,464]},
      {"c":"2","r":"PKS","t":"16:30","lo":-10,"q1":27,"m":60,"q3":196,"hi":400,"o":[419,508,553]},
      {"c":"2","r":"PKS","t":"17:00","lo":-10,"q1":27,"m":70,"q3":205,"hi":450,"o":[464,553,642,731,776]},
      {"c":"2","r":"PKS","t":"17:30","lo":-10,"q1":27,"m":75,"q3":219,"hi":480,"o":[-250,531,620,709,776]},
      {"c":"2","r":"PKS","t":"18:00","lo":-50,"q1":27,"m":80,"q3":241,"hi":560,"o":[642,731,776]},
      {"c":"2","r":"PKS","t":"18:30","lo":-10,"q1":40,"m":100,"q3":241,"hi":600,"o":[642,731,776]},
      {"c":"2","r":"PKS","t":"19:00","lo":-94,"q1":27,"m":90,"q3":219,"hi":500,"o":[553,642,731,776]},
      {"c":"2","r":"PKS","t":"19:30","lo":-10,"q1":27,"m":80,"q3":196,"hi":400,"o":[419,508,598]},
      {"c":"2","r":"PKS","t":"20:00","lo":-10,"q1":27,"m":70,"q3":196,"hi":400,"o":[419,508,598]},
      {"c":"2","r":"PKS","t":"20:30","lo":-10,"q1":27,"m":70,"q3":196,"hi":400,"o":[464,553,620]},
      {"c":"2","r":"PKS","t":"21:00","lo":-10,"q1":27,"m":70,"q3":196,"hi":400,"o":[419,508,598]},
      {"c":"2","r":"PKS","t":"21:30","lo":-10,"q1":27,"m":60,"q3":174,"hi":350,"o":[375,464,553]},
      {"c":"2","r":"PKS","t":"22:00","lo":-10,"q1":27,"m":60,"q3":174,"hi":300,"o":[330,419]}
    ]
  },
  "data": {"name": "bx"},
  "transform": [
    {"lookup": "c", "from": {"data": {"values": [
      {"c": "3", "cap": 0.335, "sop": 0.095, "spk": 0.096},
      {"c": "4", "cap": 0.31, "sop": 0.07, "spk": 0.089},
      {"c": "1", "cap": 0.394, "sop": 0.07, "spk": 0.089},
      {"c": "2", "cap": 0.34, "sop": 0.1, "spk": 0.1}
    ]}, "key": "c", "fields": ["cap", "sop", "spk"]}}
  ],
  "hconcat": [
    {
      "width": 1,
      "height": 703.5,
      "mark": {"type": "point", "opacity": 0},
      "encoding": {
        "y": {"field": "hi", "type": "quantitative", "axis": {"title": "Normalised kW", "labels": false, "ticks": false, "domain": false, "grid": false, "titlePadding": 0}}
      }
    },
    {
      "spacing": 34.5,
      "vconcat": [
        {
          "transform": [{"filter": "datum.r == 'OPL'"}],
          "facet": {
            "column": {"field": "c", "type": "nominal", "sort": ["3", "4", "1", "2"], "header": {"title": null, "labelPadding": 9}},
            "row": {"field": "r", "type": "nominal", "header": {"labelOrient": "right", "labelAngle": 90, "labelExpr": "'Load (MW)'", "labelPadding": 2, "title": "OP", "titleOrient": "right", "titleAngle": 90, "titlePadding": 2}}
          },
          "spacing": {"column": 33.5},
          "spec": {
            "width": 433.5,
            "height": 150,
            "encoding": {
              "x": {"field": "t", "type": "ordinal", "axis": null, "scale": {"paddingInner": 0, "paddingOuter": 0.1, "domain": ["00:00","00:30","01:00","01:30","02:00","02:30","03:00","03:30","04:00","04:30","05:00","05:30","06:00","06:30","07:00","07:30","08:00","08:30","09:00","09:30","10:00","10:30","11:00","11:30","12:00","12:30","13:00","13:30","14:00","14:30","15:00","15:30","16:00","16:30","17:00","17:30","18:00","18:30","19:00","19:30","20:00","20:30","21:00","21:30","22:00","22:30","23:00","23:30"]}}
            },
            "layer": [
              {"mark": {"type": "bar", "width": {"band": 1.2}},
               "encoding": {
                 "y": {"field": "cap", "type": "quantitative", "scale": {"domain": [-0.02, 0.414], "nice": false, "zero": false}, "axis": {"values": [0, 0.1, 0.2, 0.3, 0.4], "format": ".1f", "title": null}},
                 "y2": {"datum": 0},
                 "color": {"datum": "Base cap", "type": "nominal", "scale": {"domain": ["Base cap", "Base swap"], "range": ["#9a9ea1", "#8fbcd0"]}, "legend": {"title": null}}}},
              {"mark": {"type": "bar", "width": {"band": 1.2}},
               "encoding": {"y": {"field": "sop", "type": "quantitative"}, "y2": {"datum": 0}, "color": {"datum": "Base swap", "type": "nominal"}}},
              {"mark": {"type": "rule", "color": "#333333", "strokeWidth": 1.5},
               "encoding": {"y": {"field": "lo", "type": "quantitative"}, "y2": {"field": "hi"}}},
              {"mark": {"type": "bar", "width": {"band": 0.85}, "fill": "#ffffff", "stroke": "#333333", "strokeWidth": 1.8},
               "encoding": {"y": {"field": "q1", "type": "quantitative"}, "y2": {"field": "q3"}}},
              {"mark": {"type": "tick", "color": "#333333", "thickness": 2.6, "size": 7.6},
               "encoding": {"y": {"field": "m", "type": "quantitative"}}},
              {"transform": [{"filter": "isArray(datum.o)"}, {"flatten": ["o"]}],
               "mark": {"type": "circle", "color": "#333333", "opacity": 1, "size": 60},
               "encoding": {"y": {"field": "o", "type": "quantitative"}}}
            ]
          }
        },
        {
          "spacing": 23.5,
          "vconcat": [
            {
              "transform": [{"filter": "datum.r == 'OPS'"}],
              "facet": {
                "column": {"field": "c", "type": "nominal", "sort": ["3", "4", "1", "2"], "header": {"title": null, "labels": false}},
                "row": {"field": "r", "type": "nominal", "header": {"labelOrient": "right", "labelAngle": 90, "labelExpr": "'Spot price ($/MWh)'", "labelPadding": 2, "title": "OP", "titleOrient": "right", "titleAngle": 90, "titlePadding": 2}}
              },
              "spacing": {"column": 33.5},
              "spec": {
                "width": 433.5,
                "height": 150,
                "encoding": {
                  "x": {"field": "t", "type": "ordinal", "axis": null, "scale": {"paddingInner": 0, "paddingOuter": 0.1, "domain": ["00:00","00:30","01:00","01:30","02:00","02:30","03:00","03:30","04:00","04:30","05:00","05:30","06:00","06:30","07:00","07:30","08:00","08:30","09:00","09:30","10:00","10:30","11:00","11:30","12:00","12:30","13:00","13:30","14:00","14:30","15:00","15:30","16:00","16:30","17:00","17:30","18:00","18:30","19:00","19:30","20:00","20:30","21:00","21:30","22:00","22:30","23:00","23:30"]}}
                },
                "layer": [
                  {"mark": {"type": "bar", "width": {"band": 1.2}},
                   "encoding": {
                     "y": {"field": "cap", "type": "quantitative", "scale": {"domain": [-535, 813], "nice": false, "zero": false}, "axis": {"values": [-500, -250, 0, 250, 500, 750], "format": "d", "labelExpr": "replace(datum.label, '\u2212', '-')", "title": null}},
                     "y2": {"datum": 0},
                     "color": {"datum": "Base cap", "type": "nominal", "scale": {"domain": ["Base cap", "Base swap"], "range": ["#9a9ea1", "#8fbcd0"]}, "legend": {"title": null}}}},
                  {"mark": {"type": "bar", "width": {"band": 1.2}, "stroke": "#8fbcd0", "strokeWidth": 0.9},
                   "encoding": {"y": {"field": "sop", "type": "quantitative"}, "y2": {"datum": 0}, "color": {"datum": "Base swap", "type": "nominal"}}},
                  {"mark": {"type": "rule", "color": "#333333", "strokeWidth": 1.5},
                   "encoding": {"y": {"field": "lo", "type": "quantitative"}, "y2": {"field": "hi"}}},
                  {"mark": {"type": "bar", "width": {"band": 0.85}, "fill": "#ffffff", "stroke": "#333333", "strokeWidth": 1.8},
                   "encoding": {"y": {"field": "q1", "type": "quantitative"}, "y2": {"field": "q3"}}},
                  {"mark": {"type": "tick", "color": "#333333", "thickness": 2.6, "size": 7.6},
                   "encoding": {"y": {"field": "m", "type": "quantitative"}}},
                  {"transform": [{"filter": "isArray(datum.o)"}, {"flatten": ["o"]}],
                   "mark": {"type": "circle", "color": "#333333", "opacity": 1, "size": 60},
                   "encoding": {"y": {"field": "o", "type": "quantitative"}}}
                ]
              }
            },
            {
              "transform": [{"filter": "datum.r == 'PKL'"}],
              "facet": {
                "column": {"field": "c", "type": "nominal", "sort": ["3", "4", "1", "2"], "header": {"title": null, "labels": false}},
                "row": {"field": "r", "type": "nominal", "header": {"labelOrient": "right", "labelAngle": 90, "labelExpr": "'Load (MW)'", "labelPadding": 2, "title": "PK", "titleOrient": "right", "titleAngle": 90, "titlePadding": 2}}
              },
              "spacing": {"column": 33.5},
              "spec": {
                "width": 433.5,
                "height": 150,
                "encoding": {
                  "x": {"field": "t", "type": "ordinal", "axis": null, "scale": {"paddingInner": 0, "paddingOuter": 0.1, "domain": ["00:00","00:30","01:00","01:30","02:00","02:30","03:00","03:30","04:00","04:30","05:00","05:30","06:00","06:30","07:00","07:30","08:00","08:30","09:00","09:30","10:00","10:30","11:00","11:30","12:00","12:30","13:00","13:30","14:00","14:30","15:00","15:30","16:00","16:30","17:00","17:30","18:00","18:30","19:00","19:30","20:00","20:30","21:00","21:30","22:00","22:30","23:00","23:30"]}}
                },
                "layer": [
                  {"mark": {"type": "bar", "width": {"band": 1.2}},
                   "encoding": {
                     "y": {"field": "cap", "type": "quantitative", "scale": {"domain": [-0.02, 0.414], "nice": false, "zero": false}, "axis": {"values": [0, 0.1, 0.2, 0.3, 0.4], "format": ".1f", "title": null}},
                     "y2": {"datum": 0},
                     "color": {"datum": "Base cap", "type": "nominal", "scale": {"domain": ["Base cap", "Base swap"], "range": ["#9a9ea1", "#8fbcd0"]}, "legend": {"title": null}}}},
                  {"mark": {"type": "bar", "width": {"band": 1.2}},
                   "encoding": {"y": {"field": "spk", "type": "quantitative"}, "y2": {"datum": 0}, "color": {"datum": "Base swap", "type": "nominal"}}},
                  {"mark": {"type": "rule", "color": "#333333", "strokeWidth": 1.5},
                   "encoding": {"y": {"field": "lo", "type": "quantitative"}, "y2": {"field": "hi"}}},
                  {"mark": {"type": "bar", "width": {"band": 0.85}, "fill": "#ffffff", "stroke": "#333333", "strokeWidth": 1.8},
                   "encoding": {"y": {"field": "q1", "type": "quantitative"}, "y2": {"field": "q3"}}},
                  {"mark": {"type": "tick", "color": "#333333", "thickness": 2.6, "size": 7.6},
                   "encoding": {"y": {"field": "m", "type": "quantitative"}}},
                  {"transform": [{"filter": "isArray(datum.o)"}, {"flatten": ["o"]}],
                   "mark": {"type": "circle", "color": "#333333", "opacity": 1, "size": 60},
                   "encoding": {"y": {"field": "o", "type": "quantitative"}}}
                ]
              }
            }
          ]
        },
        {
          "transform": [{"filter": "datum.r == 'PKS'"}],
          "facet": {
            "column": {"field": "c", "type": "nominal", "sort": ["3", "4", "1", "2"], "header": {"labels": false, "title": "Time", "titleOrient": "bottom", "titleFontSize": 21, "titleColor": "#000000", "titlePadding": 10}},
            "row": {"field": "r", "type": "nominal", "header": {"labelOrient": "right", "labelAngle": 90, "labelExpr": "'Spot price ($/MWh)'", "labelPadding": 2, "title": "PK", "titleOrient": "right", "titleAngle": 90, "titlePadding": 2}}
          },
          "spacing": {"column": 33.5},
          "spec": {
            "width": 433.5,
            "height": 150,
            "encoding": {
              "x": {"field": "t", "type": "ordinal", "scale": {"paddingInner": 0, "paddingOuter": 0.1, "domain": ["00:00","00:30","01:00","01:30","02:00","02:30","03:00","03:30","04:00","04:30","05:00","05:30","06:00","06:30","07:00","07:30","08:00","08:30","09:00","09:30","10:00","10:30","11:00","11:30","12:00","12:30","13:00","13:30","14:00","14:30","15:00","15:30","16:00","16:30","17:00","17:30","18:00","18:30","19:00","19:30","20:00","20:30","21:00","21:30","22:00","22:30","23:00","23:30"]},
                    "axis": {"values": ["01:00","03:00","05:00","07:00","09:00","11:00","13:00","15:00","17:00","19:00","21:00","23:00"], "labelAngle": -90, "title": null, "labelPadding": 4}}
            },
            "layer": [
              {"mark": {"type": "bar", "width": {"band": 1.2}},
               "encoding": {
                 "y": {"field": "cap", "type": "quantitative", "scale": {"domain": [-1134, 862], "nice": false, "zero": false}, "axis": {"values": [-1000, -500, 0, 500], "format": "d", "labelExpr": "replace(datum.label, '\u2212', '-')", "title": null}},
                 "y2": {"datum": 0},
                 "color": {"datum": "Base cap", "type": "nominal", "scale": {"domain": ["Base cap", "Base swap"], "range": ["#9a9ea1", "#8fbcd0"]}, "legend": {"title": null}}}},
              {"mark": {"type": "bar", "width": {"band": 1.2}, "stroke": "#8fbcd0", "strokeWidth": 0.9},
               "encoding": {"y": {"field": "spk", "type": "quantitative"}, "y2": {"datum": 0}, "color": {"datum": "Base swap", "type": "nominal"}}},
              {"mark": {"type": "rule", "color": "#333333", "strokeWidth": 1.5},
               "encoding": {"y": {"field": "lo", "type": "quantitative"}, "y2": {"field": "hi"}}},
              {"mark": {"type": "bar", "width": {"band": 0.85}, "fill": "#ffffff", "stroke": "#333333", "strokeWidth": 1.8},
               "encoding": {"y": {"field": "q1", "type": "quantitative"}, "y2": {"field": "q3"}}},
              {"mark": {"type": "tick", "color": "#333333", "thickness": 2.6, "size": 7.6},
               "encoding": {"y": {"field": "m", "type": "quantitative"}}},
              {"transform": [{"filter": "isArray(datum.o)"}, {"flatten": ["o"]}],
               "mark": {"type": "circle", "color": "#333333", "opacity": 1, "size": 60},
               "encoding": {"y": {"field": "o", "type": "quantitative"}}}
            ]
          }
        }
      ]
    }
  ]
}
